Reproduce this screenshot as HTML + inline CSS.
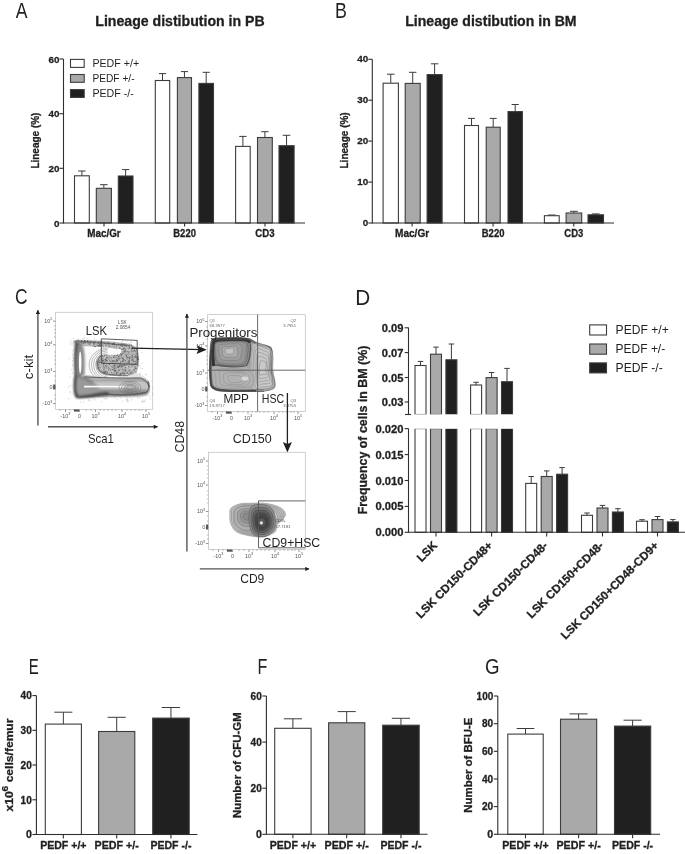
<!DOCTYPE html>
<html><head><meta charset="utf-8"><style>
html,body{margin:0;padding:0;background:#fff;width:685px;height:854px;overflow:hidden}
svg{display:block;filter:grayscale(1) blur(0.3px)}
text{font-family:"Liberation Sans",sans-serif}
text[font-weight="bold"]{stroke:#231f20;stroke-width:0.3px}
</style></head><body>
<svg width="685" height="854" viewBox="0 0 685 854">
<text transform="translate(15.77,17.9) scale(0.82,1)" font-size="21.5" fill="#231f20">A</text>
<text x="95.3" y="25.7" font-size="14" font-weight="bold" text-anchor="start" textLength="169.3" lengthAdjust="spacingAndGlyphs" fill="#231f20">Lineage distibution in PB</text>
<line x1="63.5" y1="59" x2="63.5" y2="223.5" stroke="#2e2e2e" stroke-width="1.1"/>
<line x1="59.5" y1="59" x2="63.5" y2="59" stroke="#2e2e2e" stroke-width="1.1"/>
<text x="59.4" y="62.5" font-size="9.8" font-weight="bold" text-anchor="end" fill="#231f20">60</text>
<line x1="59.5" y1="113.7" x2="63.5" y2="113.7" stroke="#2e2e2e" stroke-width="1.1"/>
<text x="59.4" y="117.2" font-size="9.8" font-weight="bold" text-anchor="end" fill="#231f20">40</text>
<line x1="59.5" y1="168.3" x2="63.5" y2="168.3" stroke="#2e2e2e" stroke-width="1.1"/>
<text x="59.4" y="171.8" font-size="9.8" font-weight="bold" text-anchor="end" fill="#231f20">20</text>
<line x1="59.5" y1="223" x2="63.5" y2="223" stroke="#2e2e2e" stroke-width="1.1"/>
<text x="59.4" y="226.5" font-size="9.8" font-weight="bold" text-anchor="end" fill="#231f20">0</text>
<line x1="81.9" y1="175.8" x2="81.9" y2="171" stroke="#3c3c3c" stroke-width="1"/>
<line x1="78.2" y1="171" x2="85.6" y2="171" stroke="#3c3c3c" stroke-width="1"/>
<rect x="74.5" y="175.8" width="14.8" height="47.2" fill="#ffffff" stroke="#3c3c3c" stroke-width="1.1"/>
<line x1="103.85" y1="188.3" x2="103.85" y2="184.7" stroke="#3c3c3c" stroke-width="1"/>
<line x1="100.07" y1="184.7" x2="107.62" y2="184.7" stroke="#3c3c3c" stroke-width="1"/>
<rect x="96.3" y="188.3" width="15.1" height="34.7" fill="#a7a9ac" stroke="#3c3c3c" stroke-width="1.1"/>
<line x1="125.65" y1="176" x2="125.65" y2="169.6" stroke="#3c3c3c" stroke-width="1"/>
<line x1="121.98" y1="169.6" x2="129.33" y2="169.6" stroke="#3c3c3c" stroke-width="1"/>
<rect x="118.3" y="176" width="14.7" height="47" fill="#231f20" stroke="#3c3c3c" stroke-width="1.1"/>
<line x1="162.5" y1="80.5" x2="162.5" y2="73.6" stroke="#3c3c3c" stroke-width="1"/>
<line x1="158.9" y1="73.6" x2="166.1" y2="73.6" stroke="#3c3c3c" stroke-width="1"/>
<rect x="155.3" y="80.5" width="14.4" height="142.5" fill="#ffffff" stroke="#3c3c3c" stroke-width="1.1"/>
<line x1="184.45" y1="77.6" x2="184.45" y2="71.6" stroke="#3c3c3c" stroke-width="1"/>
<line x1="180.92" y1="71.6" x2="187.97" y2="71.6" stroke="#3c3c3c" stroke-width="1"/>
<rect x="177.4" y="77.6" width="14.1" height="145.4" fill="#a7a9ac" stroke="#3c3c3c" stroke-width="1.1"/>
<line x1="206.2" y1="83.4" x2="206.2" y2="72.3" stroke="#3c3c3c" stroke-width="1"/>
<line x1="202.55" y1="72.3" x2="209.85" y2="72.3" stroke="#3c3c3c" stroke-width="1"/>
<rect x="198.9" y="83.4" width="14.6" height="139.6" fill="#231f20" stroke="#3c3c3c" stroke-width="1.1"/>
<line x1="242.9" y1="146.4" x2="242.9" y2="136.4" stroke="#3c3c3c" stroke-width="1"/>
<line x1="239.25" y1="136.4" x2="246.55" y2="136.4" stroke="#3c3c3c" stroke-width="1"/>
<rect x="235.6" y="146.4" width="14.6" height="76.6" fill="#ffffff" stroke="#3c3c3c" stroke-width="1.1"/>
<line x1="264.9" y1="137.5" x2="264.9" y2="131.7" stroke="#3c3c3c" stroke-width="1"/>
<line x1="261.2" y1="131.7" x2="268.6" y2="131.7" stroke="#3c3c3c" stroke-width="1"/>
<rect x="257.5" y="137.5" width="14.8" height="85.5" fill="#a7a9ac" stroke="#3c3c3c" stroke-width="1.1"/>
<line x1="286.55" y1="145.7" x2="286.55" y2="135.3" stroke="#3c3c3c" stroke-width="1"/>
<line x1="282.77" y1="135.3" x2="290.32" y2="135.3" stroke="#3c3c3c" stroke-width="1"/>
<rect x="279" y="145.7" width="15.1" height="77.3" fill="#231f20" stroke="#3c3c3c" stroke-width="1.1"/>
<line x1="63.5" y1="223" x2="305" y2="223" stroke="#2e2e2e" stroke-width="1.1"/>
<line x1="104" y1="223" x2="104" y2="226.5" stroke="#2e2e2e" stroke-width="1.1"/>
<text x="104" y="236.6" font-size="10.2" font-weight="bold" text-anchor="middle" textLength="33.4" lengthAdjust="spacingAndGlyphs" fill="#231f20">Mac/Gr</text>
<line x1="184.6" y1="223" x2="184.6" y2="226.5" stroke="#2e2e2e" stroke-width="1.1"/>
<text x="184.6" y="236.6" font-size="10.2" font-weight="bold" text-anchor="middle" textLength="22.6" lengthAdjust="spacingAndGlyphs" fill="#231f20">B220</text>
<line x1="265" y1="223" x2="265" y2="226.5" stroke="#2e2e2e" stroke-width="1.1"/>
<text x="265" y="236.6" font-size="10.2" font-weight="bold" text-anchor="middle" textLength="19.3" lengthAdjust="spacingAndGlyphs" fill="#231f20">CD3</text>
<text transform="translate(39.2,140.6) rotate(-90)" font-size="10" font-weight="bold" text-anchor="middle" textLength="56" lengthAdjust="spacingAndGlyphs" fill="#231f20">Lineage (%)</text>
<rect x="70.5" y="59.4" width="13.7" height="8" fill="#ffffff" stroke="#3c3c3c" stroke-width="1.1"/>
<rect x="70.5" y="74.5" width="13.7" height="7.8" fill="#a7a9ac" stroke="#3c3c3c" stroke-width="1.1"/>
<rect x="70.5" y="89.6" width="13.7" height="7.8" fill="#231f20" stroke="#3c3c3c" stroke-width="1.1"/>
<text x="92.4" y="66.6" font-size="10.5" text-anchor="start" textLength="46.8" lengthAdjust="spacingAndGlyphs" fill="#231f20">PEDF +/+</text>
<text x="92.4" y="81.7" font-size="10.5" text-anchor="start" textLength="42.2" lengthAdjust="spacingAndGlyphs" fill="#231f20">PEDF +/-</text>
<text x="92.4" y="96.8" font-size="10.5" text-anchor="start" textLength="41.5" lengthAdjust="spacingAndGlyphs" fill="#231f20">PEDF -/-</text>
<text transform="translate(335.04,18) scale(0.83,1)" font-size="21.5" fill="#231f20">B</text>
<text x="405.2" y="26.2" font-size="14" font-weight="bold" text-anchor="start" textLength="171.4" lengthAdjust="spacingAndGlyphs" fill="#231f20">Lineage distibution in BM</text>
<line x1="372.3" y1="59.3" x2="372.3" y2="223.5" stroke="#2e2e2e" stroke-width="1.1"/>
<line x1="368.3" y1="59.3" x2="372.3" y2="59.3" stroke="#2e2e2e" stroke-width="1.1"/>
<text x="368.2" y="62" font-size="9.8" font-weight="bold" text-anchor="end" fill="#231f20">40</text>
<line x1="368.3" y1="100.2" x2="372.3" y2="100.2" stroke="#2e2e2e" stroke-width="1.1"/>
<text x="368.2" y="102.9" font-size="9.8" font-weight="bold" text-anchor="end" fill="#231f20">30</text>
<line x1="368.3" y1="141.1" x2="372.3" y2="141.1" stroke="#2e2e2e" stroke-width="1.1"/>
<text x="368.2" y="143.8" font-size="9.8" font-weight="bold" text-anchor="end" fill="#231f20">20</text>
<line x1="368.3" y1="182.1" x2="372.3" y2="182.1" stroke="#2e2e2e" stroke-width="1.1"/>
<text x="368.2" y="184.8" font-size="9.8" font-weight="bold" text-anchor="end" fill="#231f20">10</text>
<line x1="368.3" y1="223" x2="372.3" y2="223" stroke="#2e2e2e" stroke-width="1.1"/>
<text x="368.2" y="225.7" font-size="9.8" font-weight="bold" text-anchor="end" fill="#231f20">0</text>
<line x1="390.75" y1="83.2" x2="390.75" y2="74.2" stroke="#3c3c3c" stroke-width="1"/>
<line x1="386.93" y1="74.2" x2="394.57" y2="74.2" stroke="#3c3c3c" stroke-width="1"/>
<rect x="383.1" y="83.2" width="15.3" height="139.8" fill="#ffffff" stroke="#3c3c3c" stroke-width="1.1"/>
<line x1="412.7" y1="83.4" x2="412.7" y2="72.3" stroke="#3c3c3c" stroke-width="1"/>
<line x1="408.95" y1="72.3" x2="416.45" y2="72.3" stroke="#3c3c3c" stroke-width="1"/>
<rect x="405.2" y="83.4" width="15" height="139.6" fill="#a7a9ac" stroke="#3c3c3c" stroke-width="1.1"/>
<line x1="434.6" y1="74.6" x2="434.6" y2="63.8" stroke="#3c3c3c" stroke-width="1"/>
<line x1="430.85" y1="63.8" x2="438.35" y2="63.8" stroke="#3c3c3c" stroke-width="1"/>
<rect x="427.1" y="74.6" width="15" height="148.4" fill="#231f20" stroke="#3c3c3c" stroke-width="1.1"/>
<line x1="471.5" y1="125.5" x2="471.5" y2="118.4" stroke="#3c3c3c" stroke-width="1"/>
<line x1="468" y1="118.4" x2="475" y2="118.4" stroke="#3c3c3c" stroke-width="1"/>
<rect x="464.5" y="125.5" width="14" height="97.5" fill="#ffffff" stroke="#3c3c3c" stroke-width="1.1"/>
<line x1="493.2" y1="127.2" x2="493.2" y2="118.4" stroke="#3c3c3c" stroke-width="1"/>
<line x1="489.7" y1="118.4" x2="496.7" y2="118.4" stroke="#3c3c3c" stroke-width="1"/>
<rect x="486.2" y="127.2" width="14" height="95.8" fill="#a7a9ac" stroke="#3c3c3c" stroke-width="1.1"/>
<line x1="515.2" y1="111.6" x2="515.2" y2="104.5" stroke="#3c3c3c" stroke-width="1"/>
<line x1="511.6" y1="104.5" x2="518.8" y2="104.5" stroke="#3c3c3c" stroke-width="1"/>
<rect x="508" y="111.6" width="14.4" height="111.4" fill="#231f20" stroke="#3c3c3c" stroke-width="1.1"/>
<line x1="551.8" y1="215.7" x2="551.8" y2="215" stroke="#3c3c3c" stroke-width="1"/>
<line x1="548.1" y1="215" x2="555.5" y2="215" stroke="#3c3c3c" stroke-width="1"/>
<rect x="544.4" y="215.7" width="14.8" height="7.3" fill="#ffffff" stroke="#3c3c3c" stroke-width="1.1"/>
<line x1="573.9" y1="213" x2="573.9" y2="211.3" stroke="#3c3c3c" stroke-width="1"/>
<line x1="570" y1="211.3" x2="577.8" y2="211.3" stroke="#3c3c3c" stroke-width="1"/>
<rect x="566.1" y="213" width="15.6" height="10" fill="#a7a9ac" stroke="#3c3c3c" stroke-width="1.1"/>
<line x1="595.75" y1="214.8" x2="595.75" y2="213.9" stroke="#3c3c3c" stroke-width="1"/>
<line x1="591.88" y1="213.9" x2="599.62" y2="213.9" stroke="#3c3c3c" stroke-width="1"/>
<rect x="588" y="214.8" width="15.5" height="8.2" fill="#231f20" stroke="#3c3c3c" stroke-width="1.1"/>
<line x1="372.3" y1="223" x2="614" y2="223" stroke="#2e2e2e" stroke-width="1.1"/>
<line x1="412.1" y1="223" x2="412.1" y2="226.5" stroke="#2e2e2e" stroke-width="1.1"/>
<text x="412.1" y="236.6" font-size="10.2" font-weight="bold" text-anchor="middle" textLength="34.1" lengthAdjust="spacingAndGlyphs" fill="#231f20">Mac/Gr</text>
<line x1="493.1" y1="223" x2="493.1" y2="226.5" stroke="#2e2e2e" stroke-width="1.1"/>
<text x="493.1" y="236.6" font-size="10.2" font-weight="bold" text-anchor="middle" textLength="22.6" lengthAdjust="spacingAndGlyphs" fill="#231f20">B220</text>
<line x1="573.8" y1="223" x2="573.8" y2="226.5" stroke="#2e2e2e" stroke-width="1.1"/>
<text x="573.8" y="236.6" font-size="10.2" font-weight="bold" text-anchor="middle" textLength="19" lengthAdjust="spacingAndGlyphs" fill="#231f20">CD3</text>
<text transform="translate(347.6,140.4) rotate(-90)" font-size="10" font-weight="bold" text-anchor="middle" textLength="56.2" lengthAdjust="spacingAndGlyphs" fill="#231f20">Lineage (%)</text>
<text transform="translate(355.3,304.7) scale(0.966,1)" font-size="21.5" fill="#231f20">D</text>
<line x1="408.5" y1="327.6" x2="408.5" y2="414.5" stroke="#2e2e2e" stroke-width="1.1"/>
<line x1="405" y1="414.5" x2="411" y2="414.5" stroke="#2e2e2e" stroke-width="1.1"/>
<line x1="404.7" y1="327.8" x2="408.5" y2="327.8" stroke="#2e2e2e" stroke-width="1.1"/>
<text x="403.5" y="331.8" font-size="11.2" font-weight="bold" text-anchor="end" textLength="21.7" lengthAdjust="spacingAndGlyphs" fill="#231f20">0.09</text>
<line x1="404.7" y1="352.6" x2="408.5" y2="352.6" stroke="#2e2e2e" stroke-width="1.1"/>
<text x="403.5" y="356.6" font-size="11.2" font-weight="bold" text-anchor="end" textLength="21.7" lengthAdjust="spacingAndGlyphs" fill="#231f20">0.07</text>
<line x1="404.7" y1="377.5" x2="408.5" y2="377.5" stroke="#2e2e2e" stroke-width="1.1"/>
<text x="403.5" y="381.5" font-size="11.2" font-weight="bold" text-anchor="end" textLength="21.7" lengthAdjust="spacingAndGlyphs" fill="#231f20">0.05</text>
<line x1="404.7" y1="402" x2="408.5" y2="402" stroke="#2e2e2e" stroke-width="1.1"/>
<text x="403.5" y="406" font-size="11.2" font-weight="bold" text-anchor="end" textLength="21.7" lengthAdjust="spacingAndGlyphs" fill="#231f20">0.03</text>
<line x1="408.5" y1="428.6" x2="408.5" y2="532.8" stroke="#2e2e2e" stroke-width="1.1"/>
<line x1="404.7" y1="428.6" x2="408.5" y2="428.6" stroke="#2e2e2e" stroke-width="1.1"/>
<text x="403.5" y="432.6" font-size="11.2" font-weight="bold" text-anchor="end" textLength="28" lengthAdjust="spacingAndGlyphs" fill="#231f20">0.020</text>
<line x1="404.7" y1="454.6" x2="408.5" y2="454.6" stroke="#2e2e2e" stroke-width="1.1"/>
<text x="403.5" y="458.6" font-size="11.2" font-weight="bold" text-anchor="end" textLength="28" lengthAdjust="spacingAndGlyphs" fill="#231f20">0.015</text>
<line x1="404.7" y1="480.5" x2="408.5" y2="480.5" stroke="#2e2e2e" stroke-width="1.1"/>
<text x="403.5" y="484.5" font-size="11.2" font-weight="bold" text-anchor="end" textLength="28" lengthAdjust="spacingAndGlyphs" fill="#231f20">0.010</text>
<line x1="404.7" y1="506.4" x2="408.5" y2="506.4" stroke="#2e2e2e" stroke-width="1.1"/>
<text x="403.5" y="510.4" font-size="11.2" font-weight="bold" text-anchor="end" textLength="28" lengthAdjust="spacingAndGlyphs" fill="#231f20">0.005</text>
<line x1="404.7" y1="532.3" x2="408.5" y2="532.3" stroke="#2e2e2e" stroke-width="1.1"/>
<text x="403.5" y="536.3" font-size="11.2" font-weight="bold" text-anchor="end" textLength="28" lengthAdjust="spacingAndGlyphs" fill="#231f20">0.000</text>
<line x1="420.5" y1="365.5" x2="420.5" y2="361.4" stroke="#3c3c3c" stroke-width="1"/>
<line x1="417.75" y1="361.4" x2="423.25" y2="361.4" stroke="#3c3c3c" stroke-width="1"/>
<rect x="415" y="365.5" width="11" height="49" fill="#ffffff" stroke="#3c3c3c" stroke-width="1.1"/>
<rect x="415" y="428.6" width="11" height="103.7" fill="#ffffff" stroke="#3c3c3c" stroke-width="1.1"/>
<rect x="414" y="414.3" width="13" height="14.5" fill="#fff"/>
<line x1="436" y1="354.2" x2="436" y2="347.1" stroke="#3c3c3c" stroke-width="1"/>
<line x1="433.25" y1="347.1" x2="438.75" y2="347.1" stroke="#3c3c3c" stroke-width="1"/>
<rect x="430.5" y="354.2" width="11" height="60.3" fill="#a7a9ac" stroke="#3c3c3c" stroke-width="1.1"/>
<rect x="430.5" y="428.6" width="11" height="103.7" fill="#a7a9ac" stroke="#3c3c3c" stroke-width="1.1"/>
<rect x="429.5" y="414.3" width="13" height="14.5" fill="#fff"/>
<line x1="451.4" y1="359.8" x2="451.4" y2="344" stroke="#3c3c3c" stroke-width="1"/>
<line x1="448.65" y1="344" x2="454.15" y2="344" stroke="#3c3c3c" stroke-width="1"/>
<rect x="445.9" y="359.8" width="11" height="54.7" fill="#231f20" stroke="#3c3c3c" stroke-width="1.1"/>
<rect x="445.9" y="428.6" width="11" height="103.7" fill="#231f20" stroke="#3c3c3c" stroke-width="1.1"/>
<rect x="444.9" y="414.3" width="13" height="14.5" fill="#fff"/>
<line x1="476.1" y1="385" x2="476.1" y2="382.3" stroke="#3c3c3c" stroke-width="1"/>
<line x1="473.35" y1="382.3" x2="478.85" y2="382.3" stroke="#3c3c3c" stroke-width="1"/>
<rect x="470.6" y="385" width="11" height="29.5" fill="#ffffff" stroke="#3c3c3c" stroke-width="1.1"/>
<rect x="470.6" y="428.6" width="11" height="103.7" fill="#ffffff" stroke="#3c3c3c" stroke-width="1.1"/>
<rect x="469.6" y="414.3" width="13" height="14.5" fill="#fff"/>
<line x1="491.6" y1="377.6" x2="491.6" y2="372.5" stroke="#3c3c3c" stroke-width="1"/>
<line x1="488.85" y1="372.5" x2="494.35" y2="372.5" stroke="#3c3c3c" stroke-width="1"/>
<rect x="486.1" y="377.6" width="11" height="36.9" fill="#a7a9ac" stroke="#3c3c3c" stroke-width="1.1"/>
<rect x="486.1" y="428.6" width="11" height="103.7" fill="#a7a9ac" stroke="#3c3c3c" stroke-width="1.1"/>
<rect x="485.1" y="414.3" width="13" height="14.5" fill="#fff"/>
<line x1="507" y1="381.7" x2="507" y2="368.4" stroke="#3c3c3c" stroke-width="1"/>
<line x1="504.25" y1="368.4" x2="509.75" y2="368.4" stroke="#3c3c3c" stroke-width="1"/>
<rect x="501.5" y="381.7" width="11" height="32.8" fill="#231f20" stroke="#3c3c3c" stroke-width="1.1"/>
<rect x="501.5" y="428.6" width="11" height="103.7" fill="#231f20" stroke="#3c3c3c" stroke-width="1.1"/>
<rect x="500.5" y="414.3" width="13" height="14.5" fill="#fff"/>
<line x1="531.2" y1="483.4" x2="531.2" y2="476.5" stroke="#3c3c3c" stroke-width="1"/>
<line x1="528.45" y1="476.5" x2="533.95" y2="476.5" stroke="#3c3c3c" stroke-width="1"/>
<rect x="525.7" y="483.4" width="11" height="48.9" fill="#ffffff" stroke="#3c3c3c" stroke-width="1.1"/>
<line x1="546.7" y1="476.5" x2="546.7" y2="470.9" stroke="#3c3c3c" stroke-width="1"/>
<line x1="543.95" y1="470.9" x2="549.45" y2="470.9" stroke="#3c3c3c" stroke-width="1"/>
<rect x="541.2" y="476.5" width="11" height="55.8" fill="#a7a9ac" stroke="#3c3c3c" stroke-width="1.1"/>
<line x1="562.1" y1="474.2" x2="562.1" y2="467.6" stroke="#3c3c3c" stroke-width="1"/>
<line x1="559.35" y1="467.6" x2="564.85" y2="467.6" stroke="#3c3c3c" stroke-width="1"/>
<rect x="556.6" y="474.2" width="11" height="58.1" fill="#231f20" stroke="#3c3c3c" stroke-width="1.1"/>
<line x1="587" y1="515.3" x2="587" y2="513" stroke="#3c3c3c" stroke-width="1"/>
<line x1="584.25" y1="513" x2="589.75" y2="513" stroke="#3c3c3c" stroke-width="1"/>
<rect x="581.5" y="515.3" width="11" height="17" fill="#ffffff" stroke="#3c3c3c" stroke-width="1.1"/>
<line x1="602.5" y1="508" x2="602.5" y2="505.4" stroke="#3c3c3c" stroke-width="1"/>
<line x1="599.75" y1="505.4" x2="605.25" y2="505.4" stroke="#3c3c3c" stroke-width="1"/>
<rect x="597" y="508" width="11" height="24.3" fill="#a7a9ac" stroke="#3c3c3c" stroke-width="1.1"/>
<line x1="617.9" y1="512" x2="617.9" y2="508.7" stroke="#3c3c3c" stroke-width="1"/>
<line x1="615.15" y1="508.7" x2="620.65" y2="508.7" stroke="#3c3c3c" stroke-width="1"/>
<rect x="612.4" y="512" width="11" height="20.3" fill="#231f20" stroke="#3c3c3c" stroke-width="1.1"/>
<line x1="642" y1="521.2" x2="642" y2="519.7" stroke="#3c3c3c" stroke-width="1"/>
<line x1="639.25" y1="519.7" x2="644.75" y2="519.7" stroke="#3c3c3c" stroke-width="1"/>
<rect x="636.5" y="521.2" width="11" height="11.1" fill="#ffffff" stroke="#3c3c3c" stroke-width="1.1"/>
<line x1="657.5" y1="519.6" x2="657.5" y2="516.5" stroke="#3c3c3c" stroke-width="1"/>
<line x1="654.75" y1="516.5" x2="660.25" y2="516.5" stroke="#3c3c3c" stroke-width="1"/>
<rect x="652" y="519.6" width="11" height="12.7" fill="#a7a9ac" stroke="#3c3c3c" stroke-width="1.1"/>
<line x1="672.9" y1="521.9" x2="672.9" y2="519.6" stroke="#3c3c3c" stroke-width="1"/>
<line x1="670.15" y1="519.6" x2="675.65" y2="519.6" stroke="#3c3c3c" stroke-width="1"/>
<rect x="667.4" y="521.9" width="11" height="10.4" fill="#231f20" stroke="#3c3c3c" stroke-width="1.1"/>
<line x1="408.5" y1="532.3" x2="685" y2="532.3" stroke="#2e2e2e" stroke-width="1.1"/>
<line x1="436" y1="532.3" x2="436" y2="536.5" stroke="#2e2e2e" stroke-width="1.1"/>
<text transform="translate(437.8,546.2) rotate(-45)" font-size="11.6" font-weight="bold" text-anchor="end" fill="#231f20">LSK</text>
<line x1="491.6" y1="532.3" x2="491.6" y2="536.5" stroke="#2e2e2e" stroke-width="1.1"/>
<text transform="translate(493.4,546.2) rotate(-45)" font-size="11.6" font-weight="bold" text-anchor="end" fill="#231f20">LSK CD150-CD48+</text>
<line x1="546.7" y1="532.3" x2="546.7" y2="536.5" stroke="#2e2e2e" stroke-width="1.1"/>
<text transform="translate(548.5,546.2) rotate(-45)" font-size="11.6" font-weight="bold" text-anchor="end" fill="#231f20">LSK CD150-CD48-</text>
<line x1="602.5" y1="532.3" x2="602.5" y2="536.5" stroke="#2e2e2e" stroke-width="1.1"/>
<text transform="translate(604.3,546.2) rotate(-45)" font-size="11.6" font-weight="bold" text-anchor="end" fill="#231f20">LSK CD150+CD48-</text>
<line x1="657.5" y1="532.3" x2="657.5" y2="536.5" stroke="#2e2e2e" stroke-width="1.1"/>
<text transform="translate(659.3,546.2) rotate(-45)" font-size="11.6" font-weight="bold" text-anchor="end" fill="#231f20">LSK CD150+CD48-CD9+</text>
<text transform="translate(367.2,430) rotate(-90)" font-size="12.4" font-weight="bold" text-anchor="middle" textLength="168.7" lengthAdjust="spacingAndGlyphs" fill="#231f20">Frequency of cells in BM (%)</text>
<rect x="589.7" y="324.9" width="16.8" height="10.1" fill="#ffffff" stroke="#3c3c3c" stroke-width="1.1"/>
<rect x="589.7" y="344" width="16.8" height="10.2" fill="#a7a9ac" stroke="#3c3c3c" stroke-width="1.1"/>
<rect x="589.7" y="362.9" width="16.8" height="10" fill="#231f20" stroke="#3c3c3c" stroke-width="1.1"/>
<text x="615.6" y="333.9" font-size="12.2" text-anchor="start" textLength="53.1" lengthAdjust="spacingAndGlyphs" fill="#231f20">PEDF +/+</text>
<text x="615.6" y="352.9" font-size="12.2" text-anchor="start" textLength="49.6" lengthAdjust="spacingAndGlyphs" fill="#231f20">PEDF +/-</text>
<text x="615.6" y="371.9" font-size="12.2" text-anchor="start" textLength="47.2" lengthAdjust="spacingAndGlyphs" fill="#231f20">PEDF -/-</text>
<text transform="translate(28.67,673.9) scale(0.7,1)" font-size="21.5" fill="#231f20">E</text>
<line x1="36.4" y1="695.6" x2="36.4" y2="835" stroke="#2e2e2e" stroke-width="1.1"/>
<line x1="32.4" y1="695.6" x2="36.4" y2="695.6" stroke="#2e2e2e" stroke-width="1.1"/>
<text x="31.8" y="699.3" font-size="10.2" font-weight="bold" text-anchor="end" textLength="11.2" lengthAdjust="spacingAndGlyphs" fill="#231f20">40</text>
<line x1="32.4" y1="730.3" x2="36.4" y2="730.3" stroke="#2e2e2e" stroke-width="1.1"/>
<text x="31.8" y="734" font-size="10.2" font-weight="bold" text-anchor="end" textLength="11.2" lengthAdjust="spacingAndGlyphs" fill="#231f20">30</text>
<line x1="32.4" y1="765" x2="36.4" y2="765" stroke="#2e2e2e" stroke-width="1.1"/>
<text x="31.8" y="768.7" font-size="10.2" font-weight="bold" text-anchor="end" textLength="11.2" lengthAdjust="spacingAndGlyphs" fill="#231f20">20</text>
<line x1="32.4" y1="799.8" x2="36.4" y2="799.8" stroke="#2e2e2e" stroke-width="1.1"/>
<text x="31.8" y="803.5" font-size="10.2" font-weight="bold" text-anchor="end" textLength="11.2" lengthAdjust="spacingAndGlyphs" fill="#231f20">10</text>
<line x1="32.4" y1="834.5" x2="36.4" y2="834.5" stroke="#2e2e2e" stroke-width="1.1"/>
<text x="31.8" y="838.2" font-size="10.2" font-weight="bold" text-anchor="end" textLength="5.9" lengthAdjust="spacingAndGlyphs" fill="#231f20">0</text>
<line x1="63.35" y1="724.1" x2="63.35" y2="712.2" stroke="#3c3c3c" stroke-width="1"/>
<line x1="54.33" y1="712.2" x2="72.38" y2="712.2" stroke="#3c3c3c" stroke-width="1"/>
<rect x="45.3" y="724.1" width="36.1" height="110.4" fill="#ffffff" stroke="#3c3c3c" stroke-width="1.1"/>
<line x1="116.7" y1="731.5" x2="116.7" y2="717.3" stroke="#3c3c3c" stroke-width="1"/>
<line x1="107.65" y1="717.3" x2="125.75" y2="717.3" stroke="#3c3c3c" stroke-width="1"/>
<rect x="98.6" y="731.5" width="36.2" height="103" fill="#a7a9ac" stroke="#3c3c3c" stroke-width="1.1"/>
<line x1="170.95" y1="718.1" x2="170.95" y2="707.5" stroke="#3c3c3c" stroke-width="1"/>
<line x1="161.82" y1="707.5" x2="180.07" y2="707.5" stroke="#3c3c3c" stroke-width="1"/>
<rect x="152.7" y="718.1" width="36.5" height="116.4" fill="#231f20" stroke="#3c3c3c" stroke-width="1.1"/>
<line x1="36.4" y1="834.5" x2="197.5" y2="834.5" stroke="#2e2e2e" stroke-width="1.1"/>
<line x1="63.35" y1="834.5" x2="63.35" y2="838.5" stroke="#2e2e2e" stroke-width="1.1"/>
<text x="63.35" y="849.3" font-size="10" font-weight="bold" text-anchor="middle" textLength="46.4" lengthAdjust="spacingAndGlyphs" fill="#231f20">PEDF +/+</text>
<line x1="116.7" y1="834.5" x2="116.7" y2="838.5" stroke="#2e2e2e" stroke-width="1.1"/>
<text x="116.7" y="849.3" font-size="10" font-weight="bold" text-anchor="middle" textLength="44.4" lengthAdjust="spacingAndGlyphs" fill="#231f20">PEDF +/-</text>
<line x1="170.95" y1="834.5" x2="170.95" y2="838.5" stroke="#2e2e2e" stroke-width="1.1"/>
<text x="170.95" y="849.3" font-size="10" font-weight="bold" text-anchor="middle" textLength="41.1" lengthAdjust="spacingAndGlyphs" fill="#231f20">PEDF -/-</text>
<text transform="translate(12.8,765.05) rotate(-90)" font-size="11.4" font-weight="bold" text-anchor="middle" textLength="93" lengthAdjust="spacingAndGlyphs" fill="#231f20">x10<tspan font-size="9.6" dy="-4.8">6</tspan><tspan dy="4.8"> cells/femur</tspan></text>
<text transform="translate(257.38,673.7) scale(0.75,1)" font-size="21.5" fill="#231f20">F</text>
<line x1="266.4" y1="696" x2="266.4" y2="834.8" stroke="#2e2e2e" stroke-width="1.1"/>
<line x1="262.4" y1="696" x2="266.4" y2="696" stroke="#2e2e2e" stroke-width="1.1"/>
<text x="261.8" y="699.7" font-size="10.2" font-weight="bold" text-anchor="end" textLength="11.2" lengthAdjust="spacingAndGlyphs" fill="#231f20">60</text>
<line x1="262.4" y1="742.1" x2="266.4" y2="742.1" stroke="#2e2e2e" stroke-width="1.1"/>
<text x="261.8" y="745.8" font-size="10.2" font-weight="bold" text-anchor="end" textLength="11.2" lengthAdjust="spacingAndGlyphs" fill="#231f20">40</text>
<line x1="262.4" y1="788.2" x2="266.4" y2="788.2" stroke="#2e2e2e" stroke-width="1.1"/>
<text x="261.8" y="791.9" font-size="10.2" font-weight="bold" text-anchor="end" textLength="11.2" lengthAdjust="spacingAndGlyphs" fill="#231f20">20</text>
<line x1="262.4" y1="834.3" x2="266.4" y2="834.3" stroke="#2e2e2e" stroke-width="1.1"/>
<text x="261.8" y="838" font-size="10.2" font-weight="bold" text-anchor="end" textLength="5.9" lengthAdjust="spacingAndGlyphs" fill="#231f20">0</text>
<line x1="292.9" y1="728.3" x2="292.9" y2="718.8" stroke="#3c3c3c" stroke-width="1"/>
<line x1="283.8" y1="718.8" x2="302" y2="718.8" stroke="#3c3c3c" stroke-width="1"/>
<rect x="274.7" y="728.3" width="36.4" height="106" fill="#ffffff" stroke="#3c3c3c" stroke-width="1.1"/>
<line x1="346.7" y1="722.8" x2="346.7" y2="711.6" stroke="#3c3c3c" stroke-width="1"/>
<line x1="337.65" y1="711.6" x2="355.75" y2="711.6" stroke="#3c3c3c" stroke-width="1"/>
<rect x="328.6" y="722.8" width="36.2" height="111.5" fill="#a7a9ac" stroke="#3c3c3c" stroke-width="1.1"/>
<line x1="400.95" y1="725.2" x2="400.95" y2="718.3" stroke="#3c3c3c" stroke-width="1"/>
<line x1="391.82" y1="718.3" x2="410.07" y2="718.3" stroke="#3c3c3c" stroke-width="1"/>
<rect x="382.7" y="725.2" width="36.5" height="109.1" fill="#231f20" stroke="#3c3c3c" stroke-width="1.1"/>
<line x1="266.4" y1="834.3" x2="427.5" y2="834.3" stroke="#2e2e2e" stroke-width="1.1"/>
<line x1="292.9" y1="834.3" x2="292.9" y2="838.3" stroke="#2e2e2e" stroke-width="1.1"/>
<text x="292.9" y="849.3" font-size="10" font-weight="bold" text-anchor="middle" textLength="46.4" lengthAdjust="spacingAndGlyphs" fill="#231f20">PEDF +/+</text>
<line x1="346.7" y1="834.3" x2="346.7" y2="838.3" stroke="#2e2e2e" stroke-width="1.1"/>
<text x="346.7" y="849.3" font-size="10" font-weight="bold" text-anchor="middle" textLength="44.4" lengthAdjust="spacingAndGlyphs" fill="#231f20">PEDF +/-</text>
<line x1="400.95" y1="834.3" x2="400.95" y2="838.3" stroke="#2e2e2e" stroke-width="1.1"/>
<text x="400.95" y="849.3" font-size="10" font-weight="bold" text-anchor="middle" textLength="41.1" lengthAdjust="spacingAndGlyphs" fill="#231f20">PEDF -/-</text>
<text transform="translate(240.8,765.15) rotate(-90)" font-size="11.4" font-weight="bold" text-anchor="middle" textLength="105.6" lengthAdjust="spacingAndGlyphs" fill="#231f20">Number of CFU-GM</text>
<text transform="translate(484.96,673.7) scale(0.87,1)" font-size="21.5" fill="#231f20">G</text>
<line x1="497.8" y1="696" x2="497.8" y2="834.8" stroke="#2e2e2e" stroke-width="1.1"/>
<line x1="493.8" y1="696" x2="497.8" y2="696" stroke="#2e2e2e" stroke-width="1.1"/>
<text x="493.2" y="699.7" font-size="10.2" font-weight="bold" text-anchor="end" textLength="16.6" lengthAdjust="spacingAndGlyphs" fill="#231f20">100</text>
<line x1="493.8" y1="723.7" x2="497.8" y2="723.7" stroke="#2e2e2e" stroke-width="1.1"/>
<text x="493.2" y="727.4" font-size="10.2" font-weight="bold" text-anchor="end" textLength="11.2" lengthAdjust="spacingAndGlyphs" fill="#231f20">80</text>
<line x1="493.8" y1="751.3" x2="497.8" y2="751.3" stroke="#2e2e2e" stroke-width="1.1"/>
<text x="493.2" y="755" font-size="10.2" font-weight="bold" text-anchor="end" textLength="11.2" lengthAdjust="spacingAndGlyphs" fill="#231f20">60</text>
<line x1="493.8" y1="779" x2="497.8" y2="779" stroke="#2e2e2e" stroke-width="1.1"/>
<text x="493.2" y="782.7" font-size="10.2" font-weight="bold" text-anchor="end" textLength="11.2" lengthAdjust="spacingAndGlyphs" fill="#231f20">40</text>
<line x1="493.8" y1="806.6" x2="497.8" y2="806.6" stroke="#2e2e2e" stroke-width="1.1"/>
<text x="493.2" y="810.3" font-size="10.2" font-weight="bold" text-anchor="end" textLength="11.2" lengthAdjust="spacingAndGlyphs" fill="#231f20">20</text>
<line x1="493.8" y1="834.3" x2="497.8" y2="834.3" stroke="#2e2e2e" stroke-width="1.1"/>
<text x="493.2" y="838" font-size="10.2" font-weight="bold" text-anchor="end" textLength="5.9" lengthAdjust="spacingAndGlyphs" fill="#231f20">0</text>
<line x1="525.5" y1="734.1" x2="525.5" y2="728.5" stroke="#3c3c3c" stroke-width="1"/>
<line x1="516.65" y1="728.5" x2="534.35" y2="728.5" stroke="#3c3c3c" stroke-width="1"/>
<rect x="507.8" y="734.1" width="35.4" height="100.2" fill="#ffffff" stroke="#3c3c3c" stroke-width="1.1"/>
<line x1="578.6" y1="719.2" x2="578.6" y2="713.9" stroke="#3c3c3c" stroke-width="1"/>
<line x1="569.55" y1="713.9" x2="587.65" y2="713.9" stroke="#3c3c3c" stroke-width="1"/>
<rect x="560.5" y="719.2" width="36.2" height="115.1" fill="#a7a9ac" stroke="#3c3c3c" stroke-width="1.1"/>
<line x1="632.6" y1="726.1" x2="632.6" y2="720.2" stroke="#3c3c3c" stroke-width="1"/>
<line x1="623.55" y1="720.2" x2="641.65" y2="720.2" stroke="#3c3c3c" stroke-width="1"/>
<rect x="614.5" y="726.1" width="36.2" height="108.2" fill="#231f20" stroke="#3c3c3c" stroke-width="1.1"/>
<line x1="497.8" y1="834.3" x2="660" y2="834.3" stroke="#2e2e2e" stroke-width="1.1"/>
<line x1="525.5" y1="834.3" x2="525.5" y2="838.3" stroke="#2e2e2e" stroke-width="1.1"/>
<text x="525.5" y="849.3" font-size="10" font-weight="bold" text-anchor="middle" textLength="46.4" lengthAdjust="spacingAndGlyphs" fill="#231f20">PEDF +/+</text>
<line x1="578.6" y1="834.3" x2="578.6" y2="838.3" stroke="#2e2e2e" stroke-width="1.1"/>
<text x="578.6" y="849.3" font-size="10" font-weight="bold" text-anchor="middle" textLength="44.4" lengthAdjust="spacingAndGlyphs" fill="#231f20">PEDF +/-</text>
<line x1="632.6" y1="834.3" x2="632.6" y2="838.3" stroke="#2e2e2e" stroke-width="1.1"/>
<text x="632.6" y="849.3" font-size="10" font-weight="bold" text-anchor="middle" textLength="41.1" lengthAdjust="spacingAndGlyphs" fill="#231f20">PEDF -/-</text>
<text transform="translate(472,765.15) rotate(-90)" font-size="11.4" font-weight="bold" text-anchor="middle" textLength="95" lengthAdjust="spacingAndGlyphs" fill="#231f20">Number of BFU-E</text>
<text transform="translate(15.01,303.8) scale(0.81,1)" font-size="21.5" fill="#231f20">C</text>
<defs>
<filter id="b1" filterUnits="userSpaceOnUse" x="0" y="0" width="685" height="854"><feGaussianBlur stdDeviation="1"/></filter>
<filter id="b2" filterUnits="userSpaceOnUse" x="0" y="0" width="685" height="854"><feGaussianBlur stdDeviation="1.8"/></filter>
<filter id="b05" filterUnits="userSpaceOnUse" x="0" y="0" width="685" height="854"><feGaussianBlur stdDeviation="0.5"/></filter>
<filter id="b08" filterUnits="userSpaceOnUse" x="0" y="0" width="685" height="854"><feGaussianBlur stdDeviation="0.8"/></filter>
<marker id="ah" viewBox="0 0 10 10" refX="9" refY="5" markerWidth="3.4" markerHeight="3" orient="auto"><path d="M0,0 L10,5 L0,10 Z" fill="#231f20"/></marker>
</defs>
<rect x="55.6" y="312.3" width="97.1" height="97.1" fill="none" stroke="#c4c4c4" stroke-width="0.8"/>
<line x1="53" y1="321.2" x2="55.6" y2="321.2" stroke="#8a8a8a" stroke-width="0.9"/>
<text x="52.4" y="322.8" font-size="5.4" text-anchor="end" fill="#555">10<tspan font-size="3.8" dy="-2.4">5</tspan></text>
<line x1="53" y1="344.8" x2="55.6" y2="344.8" stroke="#8a8a8a" stroke-width="0.9"/>
<text x="52.4" y="346.4" font-size="5.4" text-anchor="end" fill="#555">10<tspan font-size="3.8" dy="-2.4">4</tspan></text>
<line x1="53" y1="371.5" x2="55.6" y2="371.5" stroke="#8a8a8a" stroke-width="0.9"/>
<text x="52.4" y="373.1" font-size="5.4" text-anchor="end" fill="#555">10<tspan font-size="3.8" dy="-2.4">3</tspan></text>
<line x1="53" y1="387.5" x2="55.6" y2="387.5" stroke="#8a8a8a" stroke-width="0.9"/>
<text x="52.4" y="389.1" font-size="5.4" text-anchor="end" fill="#555">0</text>
<line x1="53" y1="403.5" x2="55.6" y2="403.5" stroke="#8a8a8a" stroke-width="0.9"/>
<text x="52.4" y="405.1" font-size="5.4" text-anchor="end" fill="#555">-10<tspan font-size="3.8" dy="-2.4">3</tspan></text>
<line x1="65.5" y1="409.4" x2="65.5" y2="412" stroke="#8a8a8a" stroke-width="0.9"/>
<text x="65.5" y="417.6" font-size="5.4" text-anchor="middle" fill="#555">-10<tspan font-size="3.8" dy="-2.4">3</tspan></text>
<line x1="79.5" y1="409.4" x2="79.5" y2="412" stroke="#8a8a8a" stroke-width="0.9"/>
<text x="79.5" y="417.6" font-size="5.4" text-anchor="middle" fill="#555">0</text>
<line x1="95.5" y1="409.4" x2="95.5" y2="412" stroke="#8a8a8a" stroke-width="0.9"/>
<text x="95.5" y="417.6" font-size="5.4" text-anchor="middle" fill="#555">10<tspan font-size="3.8" dy="-2.4">3</tspan></text>
<line x1="122" y1="409.4" x2="122" y2="412" stroke="#8a8a8a" stroke-width="0.9"/>
<text x="122" y="417.6" font-size="5.4" text-anchor="middle" fill="#555">10<tspan font-size="3.8" dy="-2.4">4</tspan></text>
<line x1="146" y1="409.4" x2="146" y2="412" stroke="#8a8a8a" stroke-width="0.9"/>
<text x="146" y="417.6" font-size="5.4" text-anchor="middle" fill="#555">10<tspan font-size="3.8" dy="-2.4">5</tspan></text>
<line x1="54.1" y1="326" x2="55.6" y2="326" stroke="#8a8a8a" stroke-width="0.6"/>
<line x1="54.1" y1="329.5" x2="55.6" y2="329.5" stroke="#8a8a8a" stroke-width="0.6"/>
<line x1="54.1" y1="333" x2="55.6" y2="333" stroke="#8a8a8a" stroke-width="0.6"/>
<line x1="54.1" y1="337" x2="55.6" y2="337" stroke="#8a8a8a" stroke-width="0.6"/>
<line x1="54.1" y1="352" x2="55.6" y2="352" stroke="#8a8a8a" stroke-width="0.6"/>
<line x1="54.1" y1="356" x2="55.6" y2="356" stroke="#8a8a8a" stroke-width="0.6"/>
<line x1="54.1" y1="360" x2="55.6" y2="360" stroke="#8a8a8a" stroke-width="0.6"/>
<line x1="54.1" y1="364" x2="55.6" y2="364" stroke="#8a8a8a" stroke-width="0.6"/>
<line x1="54.1" y1="376" x2="55.6" y2="376" stroke="#8a8a8a" stroke-width="0.6"/>
<line x1="54.1" y1="381" x2="55.6" y2="381" stroke="#8a8a8a" stroke-width="0.6"/>
<line x1="54.1" y1="395" x2="55.6" y2="395" stroke="#8a8a8a" stroke-width="0.6"/>
<line x1="54.1" y1="399" x2="55.6" y2="399" stroke="#8a8a8a" stroke-width="0.6"/>
<line x1="60" y1="409.4" x2="60" y2="410.9" stroke="#8a8a8a" stroke-width="0.6"/>
<line x1="70" y1="409.4" x2="70" y2="410.9" stroke="#8a8a8a" stroke-width="0.6"/>
<line x1="74" y1="409.4" x2="74" y2="410.9" stroke="#8a8a8a" stroke-width="0.6"/>
<line x1="86" y1="409.4" x2="86" y2="410.9" stroke="#8a8a8a" stroke-width="0.6"/>
<line x1="91" y1="409.4" x2="91" y2="410.9" stroke="#8a8a8a" stroke-width="0.6"/>
<line x1="100" y1="409.4" x2="100" y2="410.9" stroke="#8a8a8a" stroke-width="0.6"/>
<line x1="104" y1="409.4" x2="104" y2="410.9" stroke="#8a8a8a" stroke-width="0.6"/>
<line x1="108" y1="409.4" x2="108" y2="410.9" stroke="#8a8a8a" stroke-width="0.6"/>
<line x1="112" y1="409.4" x2="112" y2="410.9" stroke="#8a8a8a" stroke-width="0.6"/>
<line x1="116" y1="409.4" x2="116" y2="410.9" stroke="#8a8a8a" stroke-width="0.6"/>
<line x1="127" y1="409.4" x2="127" y2="410.9" stroke="#8a8a8a" stroke-width="0.6"/>
<line x1="131" y1="409.4" x2="131" y2="410.9" stroke="#8a8a8a" stroke-width="0.6"/>
<line x1="135" y1="409.4" x2="135" y2="410.9" stroke="#8a8a8a" stroke-width="0.6"/>
<line x1="139" y1="409.4" x2="139" y2="410.9" stroke="#8a8a8a" stroke-width="0.6"/>
<line x1="142" y1="409.4" x2="142" y2="410.9" stroke="#8a8a8a" stroke-width="0.6"/>
<rect x="74" y="409.4" width="5" height="2.2" fill="#555"/>
<rect x="53.2" y="384.5" width="2.2" height="5" fill="#555"/>
<path d="M89 372.6h0M100.3 376.6h0M122.3 341.3h0M69.6 391.9h0M90.8 352.3h0M140.4 368.2h0M123.5 346.9h0M123.1 393.9h0M113.5 385.6h0M126.2 341.2h0M133.7 375.7h0M94.4 339h0M130.3 394.6h0M129.9 397.3h0M102.5 389.5h0M106.7 398.3h0M80.2 351.2h0M122.4 356.7h0M112.1 362.3h0M98.7 375.3h0M118.7 396.2h0M127.2 397.8h0M142.2 401.9h0M126.2 347.7h0M142.5 400.2h0M146.3 374.3h0M129.9 350.8h0M140 374.6h0M93 341.2h0M141.9 401.8h0M76.1 389.4h0M103.8 346.9h0M93.8 387.4h0M130.3 358.7h0M144.3 401.2h0M95.1 342h0M85.5 363.7h0M121 347.2h0M72.1 393.8h0M95.5 399.8h0M108.1 371.1h0M123.9 376h0M116.6 377.6h0M105.6 384.2h0M88.9 356.7h0M104.2 375h0M70.2 377.3h0M122.9 340.9h0M122.5 367.5h0M126.9 360.1h0M129.3 385.3h0M70.4 341h0M126.6 400.1h0M90.1 366.9h0M119.5 358h0M99.8 357.5h0M100.2 376h0M94.3 361.7h0M117.5 385.2h0M95.2 351.6h0M137.6 352.6h0M84.6 365.5h0M128.5 343.7h0M96.2 358.9h0M140.2 365.7h0M142.1 348.1h0M97.5 379.6h0M87.9 344.9h0M114 349.5h0M137.9 391.9h0M84.3 355.2h0M137.9 379h0M137.8 359.6h0M79.7 356.1h0M136.8 354.8h0M98.3 364.3h0M104.6 363.8h0M68.9 398.8h0M144.2 401.6h0M105.9 399.2h0M132.6 391.8h0M125.5 371h0M93.4 359.3h0M88.1 341.5h0M119.1 355.8h0M146.2 382.4h0M148 395.7h0M145.9 374.8h0M69.6 385.8h0M83.3 356.6h0M125.5 371.4h0M104.1 398.5h0M121.1 359.4h0M90.2 393.4h0M109.5 388.2h0M98.8 349.9h0M114.5 390.5h0M83.2 388.9h0M147.8 389.8h0M122.6 393.5h0M72.8 354.8h0M91.6 371.5h0M104.9 368h0M73.2 345.3h0M79.2 341.5h0M152.3 393h0M75.9 369.9h0M95.7 357.6h0M98.7 379.4h0M118.9 360.6h0M84.9 358.5h0M79.1 373.4h0M130.1 361.9h0M75.4 348.7h0M100.6 376.6h0M135.8 361.9h0M137.4 377.8h0M105.6 361.4h0M111.2 383h0M104.7 382.5h0M108.1 353.1h0M114.6 382.5h0M74.7 364.8h0M105.1 394.6h0M145.7 388.8h0M91 367.4h0M79.1 390.3h0M125.5 395.1h0M136.7 380.7h0M131.6 373.9h0M77.4 375.5h0M76.4 343.5h0M70.5 392.1h0M78.9 392.3h0M126.4 391.8h0M134.5 370.5h0M130 344h0M132.9 398.2h0M73.8 358.2h0M117 391.2h0M89.3 348.8h0M90 377.3h0M133.3 362.8h0M100.1 363h0M98.6 364.4h0M75.7 369.8h0M132.8 347.5h0M127.9 386.5h0M126.5 370.9h0M110.1 379.1h0M76.7 386h0M106.6 384.1h0M84.5 354.5h0M85.6 375.4h0M95.6 352.2h0M127.9 399.4h0M93.9 383.2h0M104 392.9h0M118.8 354.5h0M87.2 338.5h0M109.7 362.1h0M83.3 360.6h0M96.2 387.7h0M80.9 401.9h0M109.7 376.2h0M108.8 391.7h0M139.2 373.5h0M109.9 384.2h0M142.2 363.2h0M131.6 399.9h0M108.7 352h0M88.7 384h0M126.6 399.8h0M141.9 352.9h0M84.8 353.9h0M84.6 383.2h0M142.3 395.9h0M90.4 393.7h0M95.5 364.7h0M131.2 342.6h0M76.5 391.6h0M93.6 360.4h0M118.4 381.2h0M69.1 358.9h0M106 368.8h0M86.6 375.3h0M115.3 344.8h0M92.1 380.6h0M78.2 395.1h0M134.9 386.6h0M93.9 381.3h0M124.8 389.8h0M91.3 386.4h0M151.2 381.1h0M114.6 344.4h0M111 360.1h0M130.3 381.4h0M117.2 348.9h0M124 378.3h0M83.9 395.3h0M124.9 345.1h0M97 384.2h0M119.9 373.3h0M124.2 367h0M95.4 348.6h0M74.4 383.9h0M133.4 372.6h0M132.1 360.5h0M91.4 362.1h0M111.9 353.2h0M134.6 360.2h0M97.1 363.4h0M115.1 387.5h0M98.8 392.5h0M78.1 354.7h0M77.1 344.4h0M135.5 384.6h0M84.4 349.4h0M104.3 385.7h0M138.7 386h0M119.4 346.6h0M102.8 349.7h0M113.9 374.2h0M85.9 353.4h0M137.6 395.4h0M116 375.2h0M123 401h0M127.6 356.6h0M142.5 368.7h0M120.2 384.6h0M68.7 387.5h0M125.4 369.2h0M113.5 367.2h0M85.1 371.7h0M71.7 369.8h0M124.1 366.1h0M117.2 399.8h0M136.6 377.8h0M72.9 360.6h0M88.6 342.1h0M114.8 397.9h0M96.3 394h0M128.2 345.8h0M142.3 376.4h0M148.2 383.9h0M132.1 359.5h0M137.9 398h0M133.6 368.8h0M77.9 339.8h0M75.2 350.1h0M82.3 369.6h0M128.6 372.2h0M104.8 379.5h0M94.7 367.4h0M133.6 363.3h0M84 395.9h0M130.4 361h0M100.4 371.7h0M119.8 351.7h0M135.9 346.4h0M108.1 349.8h0M86.5 348.2h0M103.2 348h0M70.9 344.2h0M83 369.1h0M73.6 338.5h0M107 363.7h0M103.2 363h0M87.3 343.2h0M109.3 347.8h0M122 359.7h0M79.2 340.4h0M131.1 355h0M136.3 367.5h0M90 354.4h0M138.6 378.2h0M98.1 343.1h0M127.2 400.5h0M71.1 342.9h0M83.1 339.4h0M73.1 379.9h0M137.6 397.1h0M94.7 376.8h0M93.7 392.7h0M78.4 362.5h0M97.2 381.5h0M132.1 385.1h0M140.4 373.2h0M104.2 352h0M135.5 368.5h0M91.7 348.1h0M130.5 376.7h0M129.6 362.3h0M110.4 347.1h0M108.7 386.7h0M126.8 343.4h0M88.9 392.3h0M123.7 394.5h0M145.6 385h0M97.2 361.2h0M74.7 363.2h0M117.4 344.2h0M75.5 379.5h0M89.2 340.2h0M81.6 379.2h0M88.3 400.4h0M87.4 373.8h0M104.6 388.2h0M120.5 388.7h0M114.5 349.3h0M83.8 342.2h0M139.5 344.4h0M85.6 395.5h0M75.9 367.5h0M87.7 391.3h0M121.4 379h0M134 394.1h0M98.3 376.5h0M106.8 344.3h0M140.3 375.9h0M138.6 350.5h0M114.9 367.4h0M131.1 342.1h0M98.3 368.7h0M74.7 373.2h0M131.7 364.7h0M124.3 376.7h0M86.9 360h0M105.6 342.5h0M87.2 347.8h0M148.6 384.6h0M143.7 401.6h0M121.1 398h0M114.6 364.4h0M150 396.2h0M135 363.7h0M93.6 398.2h0M84.4 343.3h0M130.6 356.3h0M113.2 378.9h0M72 385.8h0M92.2 365.3h0M98.2 385.6h0M132.7 355.8h0M77.4 356.6h0M103.9 342.1h0M81.7 387h0M128.7 401h0M152.7 394.4h0M100.5 347.6h0M95.3 367.3h0M113.7 372.5h0M99.4 392.9h0M93 367.3h0M144.8 389.9h0M94.1 352.9h0M79.8 371.8h0M114.6 347.9h0M72.8 350.4h0M134.7 367.5h0M152.7 388.5h0M84.4 337.9h0M105.7 359.2h0M72.9 372.8h0M76.6 357.4h0M89.8 389.5h0M104.5 354.1h0M72.3 365.1h0M122.5 381.2h0M147 390h0M89.8 345.9h0M133.7 388.7h0M112.3 391.4h0M116 355.3h0M83 338.1h0M123.8 395.8h0M125.7 397.8h0M138.5 376.5h0M104.1 371h0M83.2 349h0M127.3 402h0M115.5 363.7h0M98.8 366.8h0M137.6 366.6h0M95.6 371.2h0M103.9 392.7h0M139.7 398h0M117.9 373h0M110.4 355.3h0M129.5 396.7h0M77.3 380.8h0M100.4 370.7h0M145.5 399.9h0M123.8 349.8h0M101.5 391.2h0M95.7 354.7h0M150.2 398.8h0M95.8 362.7h0M92.7 345.6h0M90 401.2h0M75.3 352h0M85.7 342.2h0M113.8 385.7h0M140.6 378.3h0M92.8 400h0M74.5 354.5h0M110 354.5h0M115.5 340.1h0M88.8 399.7h0M80.9 396.3h0M83.8 402h0M126.5 379.4h0M80.7 340.6h0M133.8 348.5h0M84.8 390.9h0M101.4 344h0M102 401.7h0M92.6 345.6h0M81 345.3h0M98.8 396.9h0" stroke="#6a6a6a" stroke-width="0.6" stroke-linecap="round" fill="none" opacity="0.7"/>
<path d="M74,341 C78.25,339.58 92.33,341.17 100,341.5 C107.67,341.83 114.5,342.33 120,343 C125.5,343.67 130.08,344.33 133,345.5 C135.92,346.67 136.58,347.92 137.5,350 C138.42,352.08 138.42,355.17 138.5,358 C138.58,360.83 138.25,364.5 138,367 C137.75,369.5 136.17,371.5 137,373 C137.83,374.5 141,374.67 143,376 C145,377.33 147.75,379 149,381 C150.25,383 150.58,385.83 150.5,388 C150.42,390.17 150.25,392.58 148.5,394 C146.75,395.42 146.42,396 140,396.5 C133.58,397 119.17,396.83 110,397 C100.83,397.17 90.67,397.42 85,397.5 C79.33,397.58 77.83,398.08 76,397.5 C74.17,396.92 74.25,398.58 74,394 C73.75,389.42 74.42,377.33 74.5,370 C74.58,362.67 74.58,354.83 74.5,350 C74.42,345.17 69.75,342.42 74,341 Z" fill="#e2e2e2" filter="url(#b05)"/>
<path d="M83,345.5 C86,344.58 94.67,346.03 101,346.5 C107.33,346.97 117.53,347.47 121,348.3 C124.47,349.13 122.3,350.47 121.8,351.5 C121.3,352.53 120.97,353.98 118,354.5 C115.03,355.02 107.33,354.27 104,354.6 C100.67,354.93 99.42,355.1 98,356.5 C96.58,357.9 95.67,360.75 95.5,363 C95.33,365.25 95.75,368.08 97,370 C98.25,371.92 100,373.5 103,374.5 C106,375.5 110.17,375.58 115,376 C119.83,376.42 132.83,376.67 132,377 C131.17,377.33 116.67,377.92 110,378 C103.33,378.08 96,377.92 92,377.5 C88,377.08 87.42,377.58 86,375.5 C84.58,373.42 84,368.92 83.5,365 C83,361.08 83.08,355.25 83,352 C82.92,348.75 80,346.42 83,345.5 Z" fill="#fbfbfb" filter="url(#b05)"/>
<path d="M107.5,354.2 A9.6,10.6 0 0 0 107.5,375.4" fill="none" stroke="#8a8a8a" stroke-width="0.55"/>
<path d="M107.5,352.5 A11.8,12.3 0 0 0 107.5,377.1" fill="none" stroke="#8a8a8a" stroke-width="0.55"/>
<path d="M107.5,350.8 A14,14 0 0 0 107.5,378.8" fill="none" stroke="#8a8a8a" stroke-width="0.55"/>
<path d="M107.5,349.4 A16.2,15.4 0 0 0 107.5,380.2" fill="none" stroke="#8a8a8a" stroke-width="0.55"/>
<path d="M107.5,348.2 A18.4,16.6 0 0 0 107.5,381.4" fill="none" stroke="#8a8a8a" stroke-width="0.55"/>
<path d="M75,340.2 C79.17,339.67 92.5,340.4 100,340.8 C107.5,341.2 114.67,341.9 120,342.6 C125.33,343.3 129.17,343.93 132,345 C134.83,346.07 135.83,347 137,349 C138.17,351 138.75,354.17 139,357 C139.25,359.83 139,363.42 138.5,366 C138,368.58 137.75,370.88 136,372.5 C134.25,374.12 132,375.17 128,375.7 C124,376.23 116.5,376.12 112,375.7 C107.5,375.28 103.62,374.82 101,373.2 C98.38,371.58 97,368.37 96.3,366 C95.6,363.63 96.02,360.78 96.8,359 C97.58,357.22 98.8,355.98 101,355.3 C103.2,354.62 107.17,355 110,354.9 C112.83,354.8 116.12,355.18 118,354.7 C119.88,354.22 120.88,352.92 121.3,352 C121.72,351.08 121.72,349.83 120.5,349.2 C119.28,348.57 117.42,348.57 114,348.2 C110.58,347.83 104.83,347.37 100,347 C95.17,346.63 88.67,346.3 85,346 C81.33,345.7 79.67,345.53 78,345.2 C76.33,344.87 75.5,344.83 75,344 C74.5,343.17 70.83,340.73 75,340.2 Z" fill="#b4b4b4" filter="url(#b05)"/>
<path d="M114.9 366.5h0M125.9 373.7h0M122.4 372.9h0M135.4 363.2h0M109.8 360.6h0M124 345.9h0M126 345.1h0M114.5 344.7h0M109.5 364.3h0M119.2 374.5h0M132.2 350.8h0M98.1 346.1h0M84.3 342.5h0M127.4 357.3h0M123 370.2h0M98.4 360.7h0M75.6 341.9h0M108.6 367.7h0M126 370.7h0M114.1 372.8h0M95.3 346.5h0M119.1 375.6h0M85.3 341.9h0M138.1 359.1h0M113 369.5h0M104.2 355.2h0M128.7 344.8h0M121.8 373.9h0M115.3 368.2h0M137.5 356.3h0M106.2 366.1h0M100.8 345.4h0M136.4 362.5h0M125 371h0M98.1 368.1h0M124.6 364.9h0M117.5 367.2h0M98.3 365.2h0M124.3 364.7h0M116.6 360.8h0M104.6 369.2h0M116.4 368.5h0M97.3 363.1h0M122.2 369.6h0M130.7 364.6h0M108.2 359h0M135 357.1h0M119.3 365.7h0M121.7 346.3h0M124.9 360.8h0M117.6 355.1h0M114.9 367.7h0M115.8 365.8h0M103.2 363.3h0M78.5 344.9h0M95.3 346.6h0M87.4 341.5h0M114.2 361.2h0M98.9 341.5h0M114.3 343.6h0M112.2 374.2h0M127.4 355.1h0M127 363h0M98.6 345.2h0M113.1 360.2h0M114.4 345.2h0M115.3 371.8h0M137.2 353.7h0M137.8 357.8h0M138 357.7h0M125 369.6h0M125 348.9h0M92.1 345.7h0M113.9 357h0M116.3 361.6h0M122.6 344.4h0M123.7 350.9h0M122.7 361.2h0M104.2 372.7h0M131.8 359.6h0M102.4 360.6h0M120.3 362.6h0M105.8 372.6h0M129.5 347.2h0M119.5 355.6h0M105.6 359.7h0M125.7 363.8h0M128.9 348h0M116.3 374h0M120.6 345h0M101.5 345.9h0M79.6 342.2h0M111.8 366.6h0M131.2 345h0M113.4 357.6h0M135.1 353.5h0M107.4 372.5h0M110.5 362.2h0M108.1 344.9h0M122.2 346.6h0M120.7 363.5h0M80.8 344.6h0M131.1 357.3h0M135.9 364.4h0M89.3 344.3h0M137.3 363.8h0M127.5 345.2h0M99.7 345h0M128.2 363.2h0M126.5 355.6h0M129.5 358.6h0M112.9 360.6h0M122.4 354.2h0M81.2 341.4h0M88 341.6h0M131.9 357.3h0M105.1 371.8h0M114.6 355.4h0M104.8 343.7h0M84.9 345.8h0M131.3 345.6h0M119 364.1h0M105.2 373.8h0M121.7 346h0M87.9 341.1h0M89.8 343h0M121.9 365.7h0M118 373.6h0M116.3 355.5h0M101.3 341.8h0M81 342.7h0M132.5 357.6h0M90.6 342h0M100.4 342.3h0M94.6 342h0M100.8 359.1h0M134 361.4h0M129.8 347.8h0M106.1 360.5h0M99.1 362.4h0M121.4 372.6h0M127.9 348.2h0M127.4 351.3h0M83.3 343.1h0M90.7 343.2h0M102.4 360.7h0M90.7 342.4h0M98.9 343.7h0M123.1 359.9h0M132.3 363.4h0M123.6 360.6h0M103.3 369.2h0M116.9 374.1h0M121.6 365.1h0M99.5 344.8h0M93.3 342.5h0M123.9 360h0M76.8 342h0M130 373.9h0M112.4 369.6h0M121.5 343.6h0M108.9 346.3h0M120.4 356h0M135.1 368.4h0M133.6 356.6h0M102.8 355.9h0M124.1 373.4h0M109.1 374.6h0M113.1 343.9h0M127.1 355.1h0M105.8 371.5h0M123.1 348.8h0M129.4 362.1h0M100.7 345.3h0M128.2 357.6h0M132.6 347.3h0M126 351.7h0M118.7 370.8h0M114.9 368.6h0M107.8 361h0M95.3 341.2h0M105.5 365.2h0M127.2 373h0M119.3 364h0M109.3 368.6h0M98.2 361.3h0M118.5 358.7h0M93.2 343h0M112.1 367.2h0M134.5 349.9h0M123.2 364h0M119 370h0M122.3 361.9h0M132.4 348.7h0M137.4 359.5h0M100 346.5h0M116.8 372.1h0M133.3 362h0M99.7 344.1h0M119.1 359.8h0M120.8 353.5h0M131.8 347.8h0M114.8 372.1h0M124.1 348.2h0M128.1 371.4h0M121.6 355h0M102.2 359h0M132.9 350.9h0M77 344.3h0M111 361.6h0M113 363.1h0M119.2 366.1h0M128.4 374.2h0M116.3 373.1h0M128.8 357.1h0M85 343.5h0M122.1 369.2h0M126.4 365.5h0M115 374.5h0M81.6 343.9h0M118.6 366.6h0M99 364.5h0M106.7 374.4h0M123.6 365.8h0M93.9 344.3h0M122.2 372.8h0M106.9 364.9h0M125.5 360.6h0M129.3 358.6h0M138 359.4h0M124 353h0M108.1 342.1h0M103.3 357h0M136.1 364.6h0M107.5 342.1h0M100.1 367.8h0M102.8 361.3h0M132.8 363.1h0M101.4 371.2h0M127.8 372.7h0M123.4 371.9h0M117.7 344.6h0M132.4 371.6h0M87.6 340.9h0M128 374.3h0M113.3 345h0M98.9 367.7h0M137.4 365.1h0M80.8 344.1h0M112.2 374.5h0M121.8 344.9h0M105.8 365.3h0M101.8 358.1h0M114.1 368.3h0M97.1 341h0M116.9 373h0M98.7 359h0M120.6 373.5h0M94.3 346.1h0M103.7 366.3h0M134.2 350.8h0M110.3 369.7h0M106.6 360.3h0M78.8 343.3h0M96.9 345.3h0M136.9 349.5h0M122.4 349.5h0M128.1 362.4h0M99.9 362.5h0M131.1 355.8h0M132.4 346.5h0M83.8 342h0M122.3 360.1h0M75.6 341.7h0M127.7 357.8h0M112.7 344.4h0M121.2 361.9h0M114.2 348.1h0M80.9 342.6h0M104.5 363.2h0M132.1 365.8h0M129 344.5h0M123.3 349.4h0M123.5 358.5h0M132.7 356.7h0M88.1 343.3h0M97.6 343h0M102.2 362.3h0M116.6 346.4h0M119 356.1h0M111.7 372.6h0M106.6 359.2h0M132.6 359.9h0M117.4 355.1h0M125.2 369.9h0M93.8 344h0M131.9 349.6h0M115.3 362.9h0M124.3 352.1h0M129 360.9h0M99.6 362.8h0M121.3 349.5h0M81.1 342.5h0M120.9 354.8h0M94.3 346.6h0M135.4 368.3h0M132.4 358.2h0M89.5 341.2h0M104.8 343.8h0M124.2 344.3h0M109.4 343.2h0M138.2 359.5h0M110.3 374.7h0M107.9 372.8h0M99.4 362.7h0M133.8 351.8h0M126.9 359h0M83.9 342.1h0M135.1 356.7h0M103.4 372.8h0M111.7 358h0M123.5 361.7h0M119.5 366.1h0M114.7 370.6h0M115.9 357.5h0M130.9 372.8h0M131.1 344.9h0M116.9 367.1h0M135.4 351.3h0M129.6 363.7h0M101.9 369.9h0M121.8 358.1h0M120.5 362h0M125.9 345.9h0M125.6 367.6h0M109.3 357.2h0M116.3 348.3h0M117 360.8h0M122.6 358.1h0M122.1 353.4h0M113.2 367.1h0M103.5 364.6h0M128.8 345.4h0M78.6 340.7h0M124 344h0M104.3 355.8h0M126.4 357.1h0M125.9 367.4h0M114.9 369.8h0M114.3 365.6h0M129.5 362.1h0M99.9 346.1h0M136 372h0M119.1 347.9h0M100.8 356.2h0M101.2 341.1h0M104.2 367.5h0M119.4 370.7h0M118.7 367.3h0M130.7 372.8h0M125.8 355h0M117.2 363.6h0M131.5 365.5h0M103.4 347h0M118.6 367.5h0M128.8 353.2h0M98.2 345.3h0M81.7 340.4h0M110.2 374.2h0M128.4 351.8h0M84.6 340.4h0M123.4 357.2h0M126.4 356.2h0M133.8 361.8h0M109.4 346.3h0M102.3 355.8h0M127.7 348.4h0M113 343.5h0M121.7 354.7h0M124.8 351.2h0M118.4 344.6h0M108.2 343.1h0M116 372.7h0M107.8 356.9h0M103.4 345.6h0M134.6 350.6h0M118.6 356.6h0M104 371.1h0M127.6 358h0M129.1 360.4h0M103.9 363.5h0M102.3 344.9h0M103.1 371.4h0M113.6 361.2h0M119.4 358.3h0M129.6 370.1h0M114.6 370.3h0M98.7 368h0M100 370.6h0M122.8 366h0M134.6 354.5h0M103 362h0M107 360.8h0M107.2 372.2h0M124.8 351.1h0M96.7 361.9h0M77.1 344.5h0M79.2 344.1h0M133.9 369.9h0M125.1 349.3h0M121.1 357.6h0M129.4 370.4h0M121.7 366.2h0M133.4 360h0M99.5 360.5h0M93.1 341.5h0M82.7 343.1h0M136.3 357.5h0M128.6 366.6h0M115.6 370.6h0M125.6 350.7h0M84.6 340.5h0M117.5 360.9h0M120.1 366.2h0M106.2 371.1h0M115.3 364.7h0M104.8 359.6h0M108.4 370h0M113.7 363.5h0M105.1 361.5h0M116.3 344.9h0M103.6 360.1h0M87.5 343.8h0M97.5 364.9h0M132.3 355.9h0M106 345.5h0M117.7 365.8h0M105.5 359.3h0M124.3 374.2h0M107.3 363.7h0M98.5 362.1h0M114.3 364h0M134.2 365.3h0M120.4 365.2h0M114.7 342.4h0M123.3 348.3h0M106.5 358.8h0M121.2 367.4h0M105 373.6h0M103.4 360.3h0M120.7 374.2h0M116.7 359.4h0M125.5 370.7h0M114.4 365h0M136.3 368.7h0M102.3 372.6h0M135.5 367h0M109 363.9h0M115.8 370.9h0M120.7 374.7h0M106.6 357.7h0M117.1 360.1h0M134.4 350h0M111.4 372h0M124.2 373.6h0M105.6 344.4h0M124 359.5h0M130.9 351.5h0M132.3 355.3h0M138.3 365.6h0M122.2 369h0M104.8 372.5h0M138.2 359.9h0M94.5 343.1h0M102.3 358.7h0M135.7 357.1h0M108.5 364.1h0M118 358.7h0M98.5 345.4h0M76.9 344.5h0M129.6 357.3h0M79.4 343.2h0M132 360.7h0M134.9 363.8h0M128.6 361.3h0M132.3 372.2h0M106.5 368h0M130.4 357.3h0M131.7 350.8h0M134.2 369.9h0M134.8 366h0M117 372.5h0M135.6 361.4h0M123.1 373.3h0M122.3 366.9h0M114.3 357.1h0M121.2 355.4h0M82.2 341.5h0M106.5 346.3h0M131.6 373.2h0M107.2 357.5h0M118.6 357h0M135.6 355.8h0M125.7 373.2h0M114.8 361.1h0M125.5 365.5h0M85 340.9h0M91.3 341.1h0M118.3 372.4h0M119.9 348h0M112.2 363.1h0M114 365.4h0M122.2 351.6h0M137.6 363.5h0M105.2 360.1h0M79.9 344.1h0M112.3 361.5h0M137.6 362.2h0M106.8 355.2h0M123.6 360.6h0" stroke="#383838" stroke-width="0.75" stroke-linecap="round" fill="none" opacity="0.8"/>
<path d="M95.7 345.6h0M116.7 342.8h0M79.5 343.4h0M102.2 369.6h0M115.2 373.8h0M129.9 350.5h0M84.2 344.4h0M110.1 342.4h0M118.5 355.4h0M125.8 365h0M108.6 371.3h0M121.7 350.4h0M101.8 367.1h0M123.9 360.5h0M131 351.3h0M119.5 361.3h0M112.1 356.4h0M128.8 373.7h0M105.3 363.8h0M116.4 375.5h0M127.6 350.3h0M99.7 363.9h0M85.8 344.4h0M100 371.1h0M110.2 371.6h0M127.4 370.9h0M98.6 360.3h0M136 364.7h0M108 362.1h0M132.6 367.9h0M131 368.5h0M79 342.6h0M88.4 346h0M96.8 342.1h0M114.3 345.5h0M98.3 344.6h0M104.8 357.4h0M80.5 343.8h0M128 345.9h0M108.8 345.4h0M108.8 374.9h0M130.3 364.9h0M109.1 367.9h0M126.9 375.2h0M129.6 368.8h0M127.4 366.5h0M97.8 341.2h0M136.2 356.1h0M136.1 353.1h0M114.9 372.2h0M128.8 357.2h0M116.8 368.6h0M133.2 368h0M123 357.2h0M137.2 354.3h0M121.4 346.2h0M83.1 345.6h0M132.9 368.8h0M137.7 363.5h0M97.4 359.7h0M83.4 340.7h0M137.1 363.3h0M108.7 373.3h0M102.8 371.1h0M127.9 347.7h0M112.3 372.3h0M101.9 372.8h0M107.1 359.1h0M103.2 346.7h0M121.4 360h0M110.5 368h0M124.4 358.2h0M111 367.2h0M133.4 355.9h0M114.2 358.1h0M107.8 364.8h0M104 359.1h0M105.6 373.6h0M119.7 371.3h0M135.3 349.4h0M110.8 373.7h0M128.8 345.1h0M125.2 372h0M117.3 345.3h0M100.5 357.5h0M110.5 355.8h0M114.9 358.4h0M125.5 374.7h0M92.3 344.8h0M102 372.6h0M127.4 349.4h0M111.5 365.1h0M80.7 342.2h0M119 355.3h0M115.6 368.7h0M110.4 373.1h0M92.1 344.8h0M123.6 350.5h0M107 346.5h0M97.2 340.8h0M91 340.7h0M121.9 359.8h0M127.4 355.5h0M106.7 369.8h0M100.2 358.2h0M119 375.1h0M120.2 362.8h0M78.5 344.8h0M91.4 346h0M130.7 364h0M137.2 359.6h0M105.4 358h0M77.7 341h0M112.5 359h0M123 363.5h0M120.8 371.4h0M121.3 363h0M132.1 362.5h0M122 369h0M107.3 369.8h0M126.5 369.5h0M112.4 371.9h0M118.7 364.8h0M89.7 341.3h0M110.7 362.5h0M115.1 364.4h0M126.1 366.8h0M107.2 359.2h0M117.2 342.5h0M122.2 349.2h0M121.7 347.5h0M122.3 374.8h0M105.7 364.5h0M124.1 362.1h0M116.1 343h0M122.6 351h0M118 364.8h0M108.1 356.7h0M104.8 344.4h0M132.2 347.3h0M127.5 374.6h0M127.5 358.3h0M131.8 365.2h0M128.7 344.5h0M134.3 365.5h0M132.7 350.5h0M92.6 341.9h0M107.7 346.9h0M131.6 369h0M115.4 372.6h0M135.2 359.7h0M121.9 356.2h0M123.2 363.1h0M93.3 341.9h0M85.7 345.9h0M103.8 345.2h0M87.3 343.4h0M96.9 343.4h0M111.5 371.7h0M123 354.9h0M101.5 358.8h0M107.2 362.6h0M130.2 347.9h0M100.6 356h0M136.1 370.3h0M132.3 357h0M127.8 370.6h0M108.4 364.4h0M135.3 365.8h0M116.4 367.4h0M104.3 359.8h0M115.7 365h0M82.2 342.7h0M108.6 360.9h0M136.4 363.1h0M131.6 357.1h0M136.5 365.2h0M94.7 341h0M106.9 364.1h0M117.7 373h0M89.5 341.4h0M118.7 347.2h0M126 366.4h0M107.3 347.5h0M137.1 351.3h0M127.5 348.4h0M106.7 346.8h0M117.6 373.9h0M84.1 342h0M132.5 371.6h0M121.9 375.6h0M134.6 351.9h0M127.6 355.6h0M101.3 369h0M77.2 342.4h0M133.9 349.3h0M122.8 372.1h0M136.3 362.1h0M133.7 362.7h0M102.5 357.7h0M126.4 366.4h0M127.7 367.6h0M90.8 342.5h0M92 343.2h0M120.4 356.1h0M114.7 364.1h0M122.9 370.3h0M117.5 344.5h0M128.8 350.6h0M122.2 347.3h0M126.7 363.4h0M105.4 369.3h0M128.8 372.7h0M137.3 360.9h0M134.5 353.4h0M130.4 356.1h0M113.2 362.2h0M116.7 347.4h0M118.4 346.8h0M125.9 359.7h0M79 343.8h0M100.3 359.7h0M115.9 343.4h0M121.6 347.4h0M102.1 369.3h0M101 371.5h0M104.5 346h0M116 372.5h0M98.7 358.1h0M108.4 373.1h0M126.5 374.5h0M87.6 344.7h0M105.9 342.1h0M134.3 354h0M132.9 362.2h0M127.8 345.9h0M125.3 348.1h0M100.9 370.2h0M128.1 346.7h0M121.4 372.1h0M128.6 344.4h0M113.4 359.7h0M101.9 360.9h0M102.2 363.6h0M103.6 355.8h0M123.9 367.9h0M104.3 346.6h0M105.3 344h0M107.7 341.6h0M115.7 343.1h0M121.9 367.8h0M107.7 342.1h0M121.9 369.1h0M106.5 374.2h0M125.5 373.2h0M123.4 345.8h0M132.4 350h0M127.2 345.3h0M107.1 372.9h0M118.5 372h0" stroke="#f0f0f0" stroke-width="0.7" stroke-linecap="round" fill="none" opacity="0.8"/>
<path d="M101,355.8 C97,358.5 96,366 99.5,370.8 C104,375.2 115,375.8 128,375.6" fill="none" stroke="#4a4a4a" stroke-width="1.2" opacity="0.5" filter="url(#b05)"/>
<path d="M76,341.2 C90,341.8 110,343.2 130,345.8" fill="none" stroke="#3a3a3a" stroke-width="1.4" opacity="0.55" filter="url(#b05)"/>
<path d="M76,342.5 C76.83,337.17 80.58,341.92 82,344 C83.42,346.08 84.08,350.33 84.5,355 C84.92,359.67 84.83,368.5 84.5,372 C84.17,375.5 83.75,375.33 82.5,376 C81.25,376.67 78.08,381.58 77,376 C75.92,370.42 75.17,347.83 76,342.5 Z" fill="#8c8c8c" filter="url(#b08)"/>
<path d="M77,342.6 C75.3,350 75.2,366 76,376" fill="none" stroke="#2e2e2e" stroke-width="2.4" opacity="0.85" filter="url(#b08)"/>
<ellipse cx="80.2" cy="362.5" rx="1.3" ry="11" fill="#fdfdfd" filter="url(#b05)"/>
<path d="M80,376.4 C83.33,373.2 93.33,376.6 100,376.8 C106.67,377 113.33,377.5 120,377.6 C126.67,377.7 135.58,377.08 140,377.4 C144.42,377.72 144.87,378.07 146.5,379.5 C148.13,380.93 149.45,383.67 149.8,386 C150.15,388.33 150.23,391.83 148.6,393.5 C146.97,395.17 146.43,395.48 140,396 C133.57,396.52 118.33,396.43 110,396.6 C101.67,396.77 95,397.1 90,397 C85,396.9 81.67,399.43 80,396 C78.33,392.57 76.67,379.6 80,376.4 Z" fill="#c4c4c4" filter="url(#b05)"/>
<path d="M84,389 C88.33,388.08 101.5,389.42 110,389.5 C118.5,389.58 128.83,389.42 135,389.5 C141.17,389.58 145.17,389.17 147,390 C148.83,390.83 148,393.5 146,394.5 C144,395.5 141,395.65 135,396 C129,396.35 117.5,396.43 110,396.6 C102.5,396.77 94.33,397.27 90,397 C85.67,396.73 85,396.33 84,395 C83,393.67 79.67,389.92 84,389 Z" fill="#8e8e8e" filter="url(#b08)"/>
<path d="M84,376.9 C100,377.6 120,378.4 140,378 C145,379 148.5,383 149,387" fill="none" stroke="#4a4a4a" stroke-width="0.9" opacity="0.95"/>
<path d="M84,378.4 C100,379.1 120,379.6 140,379.05 C145,379.75 148.5,383 149,387" fill="none" stroke="#707070" stroke-width="0.55" opacity="0.8"/>
<path d="M84,379.9 C100,380.6 120,380.8 140,380.1 C145,380.5 148.5,383 149,387" fill="none" stroke="#707070" stroke-width="0.55" opacity="0.7"/>
<path d="M84,381.4 C100,382.1 120,382 140,381.15 C145,381.25 148.5,383 149,387" fill="none" stroke="#707070" stroke-width="0.55" opacity="0.5"/>
<path d="M75.5,375.5 C77.37,373 82.58,377.58 86,379 C89.42,380.42 93.83,382 96,384 C98.17,386 100,389.08 99,391 C98,392.92 93.5,394.42 90,395.5 C86.5,396.58 80.53,397.75 78,397.5 C75.47,397.25 75.22,397.67 74.8,394 C74.38,390.33 73.63,378 75.5,375.5 Z" fill="#999" filter="url(#b08)"/>
<path d="M76,375 C74.2,384 74.5,393 77.5,397.2 C86,397.5 96,394.5 108,393.5" fill="none" stroke="#2a2a2a" stroke-width="2.3" opacity="0.85" filter="url(#b08)"/>
<path d="M77,375.7 C82,377 87,379.5 93,382.5" fill="none" stroke="#4a4a4a" stroke-width="1.3" opacity="0.7" filter="url(#b08)"/>
<path d="M106,394 C120,395.6 135,395 146,392.5 C149,390 150,386 148,381" fill="none" stroke="#444" stroke-width="1.4" opacity="0.65" filter="url(#b05)"/>
<path d="M84,386.6 C100,386.4 118,386.3 134,386.8" fill="none" stroke="#fafafa" stroke-width="1.6" filter="url(#b05)"/>
<ellipse cx="130" cy="387.6" rx="11" ry="6.5" fill="none" stroke="#5e5e5e" stroke-width="0.6" opacity="0.6"/>
<ellipse cx="130" cy="387.6" rx="8.5" ry="5" fill="none" stroke="#5e5e5e" stroke-width="0.6" opacity="0.7"/>
<ellipse cx="130" cy="387.6" rx="6" ry="3.4" fill="none" stroke="#5e5e5e" stroke-width="0.6" opacity="0.8"/>
<ellipse cx="130" cy="387.6" rx="3.5" ry="1.8" fill="none" stroke="#5e5e5e" stroke-width="0.6" opacity="0.8"/>
<ellipse cx="130.5" cy="388.4" rx="7" ry="3.6" fill="#888" opacity="0.4" filter="url(#b05)"/>
<path d="M101.3,338.8 L137.2,340.4 L137.2,364.4 L101.3,363.2 Z" fill="none" stroke="#333" stroke-width="0.8"/>
<text x="122.3" y="324" font-size="4.8" text-anchor="middle" fill="#555">LSK</text>
<text x="123" y="329" font-size="4.8" text-anchor="middle" fill="#555">2.0854</text>
<text x="85.8" y="334.6" font-size="13.2" fill="#231f20" textLength="21.2" lengthAdjust="spacingAndGlyphs">LSK</text>
<line x1="37.9" y1="425.5" x2="37.9" y2="310.2" stroke="#555" stroke-width="1.4" marker-end="url(#ah)"/>
<line x1="48" y1="426.8" x2="157.5" y2="426.8" stroke="#555" stroke-width="1.4" marker-end="url(#ah)"/>
<text transform="translate(33.4,367) rotate(-90)" font-size="13.4" fill="#231f20" text-anchor="middle" textLength="24.6" lengthAdjust="spacingAndGlyphs">c-kit</text>
<text x="87.9" y="443.2" font-size="13.6" fill="#231f20" textLength="25.9" lengthAdjust="spacingAndGlyphs">Sca1</text>
<line x1="131.5" y1="348.2" x2="203.5" y2="349.6" stroke="#231f20" stroke-width="1.3"/>
<path d="M206.8,349.7 L196.5,345.2 L198.5,349.6 L196.5,354.1 Z" fill="#231f20"/>
<rect x="207.6" y="314.6" width="97.7" height="96.9" fill="none" stroke="#c4c4c4" stroke-width="0.8"/>
<line x1="205" y1="321.5" x2="207.6" y2="321.5" stroke="#8a8a8a" stroke-width="0.9"/>
<text x="204.4" y="323.1" font-size="5.4" text-anchor="end" fill="#555">10<tspan font-size="3.8" dy="-2.4">5</tspan></text>
<line x1="205" y1="346" x2="207.6" y2="346" stroke="#8a8a8a" stroke-width="0.9"/>
<text x="204.4" y="347.6" font-size="5.4" text-anchor="end" fill="#555">10<tspan font-size="3.8" dy="-2.4">4</tspan></text>
<line x1="205" y1="373" x2="207.6" y2="373" stroke="#8a8a8a" stroke-width="0.9"/>
<text x="204.4" y="374.6" font-size="5.4" text-anchor="end" fill="#555">10<tspan font-size="3.8" dy="-2.4">3</tspan></text>
<line x1="205" y1="389.5" x2="207.6" y2="389.5" stroke="#8a8a8a" stroke-width="0.9"/>
<text x="204.4" y="391.1" font-size="5.4" text-anchor="end" fill="#555">0</text>
<line x1="205" y1="405.5" x2="207.6" y2="405.5" stroke="#8a8a8a" stroke-width="0.9"/>
<text x="204.4" y="407.1" font-size="5.4" text-anchor="end" fill="#555">-10<tspan font-size="3.8" dy="-2.4">3</tspan></text>
<line x1="217.5" y1="411.5" x2="217.5" y2="414.1" stroke="#8a8a8a" stroke-width="0.9"/>
<text x="217.5" y="419.7" font-size="5.4" text-anchor="middle" fill="#555">-10<tspan font-size="3.8" dy="-2.4">3</tspan></text>
<line x1="231.5" y1="411.5" x2="231.5" y2="414.1" stroke="#8a8a8a" stroke-width="0.9"/>
<text x="231.5" y="419.7" font-size="5.4" text-anchor="middle" fill="#555">0</text>
<line x1="248" y1="411.5" x2="248" y2="414.1" stroke="#8a8a8a" stroke-width="0.9"/>
<text x="248" y="419.7" font-size="5.4" text-anchor="middle" fill="#555">10<tspan font-size="3.8" dy="-2.4">3</tspan></text>
<line x1="274" y1="411.5" x2="274" y2="414.1" stroke="#8a8a8a" stroke-width="0.9"/>
<text x="274" y="419.7" font-size="5.4" text-anchor="middle" fill="#555">10<tspan font-size="3.8" dy="-2.4">4</tspan></text>
<line x1="298" y1="411.5" x2="298" y2="414.1" stroke="#8a8a8a" stroke-width="0.9"/>
<text x="298" y="419.7" font-size="5.4" text-anchor="middle" fill="#555">10<tspan font-size="3.8" dy="-2.4">5</tspan></text>
<line x1="206.1" y1="327" x2="207.6" y2="327" stroke="#8a8a8a" stroke-width="0.6"/>
<line x1="206.1" y1="331" x2="207.6" y2="331" stroke="#8a8a8a" stroke-width="0.6"/>
<line x1="206.1" y1="335" x2="207.6" y2="335" stroke="#8a8a8a" stroke-width="0.6"/>
<line x1="206.1" y1="339" x2="207.6" y2="339" stroke="#8a8a8a" stroke-width="0.6"/>
<line x1="206.1" y1="352" x2="207.6" y2="352" stroke="#8a8a8a" stroke-width="0.6"/>
<line x1="206.1" y1="356" x2="207.6" y2="356" stroke="#8a8a8a" stroke-width="0.6"/>
<line x1="206.1" y1="360" x2="207.6" y2="360" stroke="#8a8a8a" stroke-width="0.6"/>
<line x1="206.1" y1="364" x2="207.6" y2="364" stroke="#8a8a8a" stroke-width="0.6"/>
<line x1="206.1" y1="378" x2="207.6" y2="378" stroke="#8a8a8a" stroke-width="0.6"/>
<line x1="206.1" y1="383" x2="207.6" y2="383" stroke="#8a8a8a" stroke-width="0.6"/>
<line x1="206.1" y1="397" x2="207.6" y2="397" stroke="#8a8a8a" stroke-width="0.6"/>
<line x1="206.1" y1="401" x2="207.6" y2="401" stroke="#8a8a8a" stroke-width="0.6"/>
<line x1="212" y1="411.5" x2="212" y2="413" stroke="#8a8a8a" stroke-width="0.6"/>
<line x1="222" y1="411.5" x2="222" y2="413" stroke="#8a8a8a" stroke-width="0.6"/>
<line x1="226" y1="411.5" x2="226" y2="413" stroke="#8a8a8a" stroke-width="0.6"/>
<line x1="238" y1="411.5" x2="238" y2="413" stroke="#8a8a8a" stroke-width="0.6"/>
<line x1="243" y1="411.5" x2="243" y2="413" stroke="#8a8a8a" stroke-width="0.6"/>
<line x1="252" y1="411.5" x2="252" y2="413" stroke="#8a8a8a" stroke-width="0.6"/>
<line x1="256" y1="411.5" x2="256" y2="413" stroke="#8a8a8a" stroke-width="0.6"/>
<line x1="260" y1="411.5" x2="260" y2="413" stroke="#8a8a8a" stroke-width="0.6"/>
<line x1="264" y1="411.5" x2="264" y2="413" stroke="#8a8a8a" stroke-width="0.6"/>
<line x1="268" y1="411.5" x2="268" y2="413" stroke="#8a8a8a" stroke-width="0.6"/>
<line x1="279" y1="411.5" x2="279" y2="413" stroke="#8a8a8a" stroke-width="0.6"/>
<line x1="283" y1="411.5" x2="283" y2="413" stroke="#8a8a8a" stroke-width="0.6"/>
<line x1="287" y1="411.5" x2="287" y2="413" stroke="#8a8a8a" stroke-width="0.6"/>
<line x1="291" y1="411.5" x2="291" y2="413" stroke="#8a8a8a" stroke-width="0.6"/>
<line x1="294" y1="411.5" x2="294" y2="413" stroke="#8a8a8a" stroke-width="0.6"/>
<rect x="226" y="411.5" width="5" height="2.2" fill="#555"/>
<rect x="205.2" y="386.5" width="2.2" height="5" fill="#555"/>
<path d="M211.5,341 C212.45,338.72 212.58,338.83 216,338.3 C219.42,337.77 226.67,337.75 232,337.8 C237.33,337.85 244.5,338.07 248,338.6 C251.5,339.13 251.33,340.18 253,341 C254.67,341.82 255.83,342.73 258,343.5 C260.17,344.27 263.83,344.85 266,345.6 C268.17,346.35 269.92,346.27 271,348 C272.08,349.73 272.28,352.33 272.5,356 C272.72,359.67 271.97,365.83 272.3,370 C272.63,374.17 274.22,378.08 274.5,381 C274.78,383.92 275.42,385.92 274,387.5 C272.58,389.08 270.83,389.95 266,390.5 C261.17,391.05 252,390.72 245,390.8 C238,390.88 229,391.2 224,391 C219,390.8 217.17,390.6 215,389.6 C212.83,388.6 211.8,388.27 211,385 C210.2,381.73 210.32,375.5 210.2,370 C210.08,364.5 210.08,356.83 210.3,352 C210.52,347.17 210.55,343.28 211.5,341 Z" fill="#a2a2a2" filter="url(#b05)"/>
<path d="M254,344 C256.33,340 263.17,345.17 266,346 C268.83,346.83 269.95,347 271,349 C272.05,351 272.08,354.5 272.3,358 C272.52,361.5 271.98,366.17 272.3,370 C272.62,373.83 274.08,378 274.2,381 C274.32,384 275.03,386.5 273,388 C270.97,389.5 265.17,389.75 262,390 C258.83,390.25 255.67,392.83 254,389.5 C252.33,386.17 252,377.58 252,370 C252,362.42 251.67,348 254,344 Z" fill="#c9c9c9" filter="url(#b08)"/>
<path d="M255.02,346.95 C257.13,343.4 263.64,347.86 266.15,348.6 C268.65,349.34 269.27,349.62 270.05,351.38 C270.83,353.15 270.59,356.09 270.81,359.21 C271.02,362.34 271.08,366.78 271.34,370.11 C271.6,373.44 272.37,376.56 272.37,379.2 C272.36,381.85 272.98,384.7 271.31,385.97 C269.64,387.24 264.96,386.56 262.35,386.81 C259.74,387.06 257.13,390.3 255.66,387.48 C254.18,384.66 253.61,376.65 253.5,369.9 C253.4,363.14 252.92,350.5 255.02,346.95 Z" fill="none" stroke="#7c7c7c" stroke-width="0.5"/>
<path d="M255.93,349.66 C257.59,346.57 263.15,350.53 265.25,351.19 C267.36,351.85 267.87,352.07 268.55,353.63 C269.23,355.19 269.11,357.85 269.32,360.56 C269.53,363.27 269.48,367.02 269.81,369.89 C270.14,372.76 271.21,375.6 271.31,377.79 C271.41,379.97 271.92,381.96 270.4,382.99 C268.88,384.03 264.45,383.76 262.21,384.01 C259.97,384.27 258.09,386.89 256.94,384.5 C255.78,382.12 255.44,375.54 255.27,369.73 C255.1,363.92 254.26,352.75 255.93,349.66 Z" fill="none" stroke="#7c7c7c" stroke-width="0.5"/>
<path d="M257.38,353.28 C258.68,350.84 262.76,353.75 264.55,354.28 C266.34,354.82 267.38,355.22 268.12,356.48 C268.86,357.74 268.83,359.67 269,361.86 C269.16,364.05 269.11,367.35 269.13,369.62 C269.15,371.88 269.06,373.73 269.12,375.45 C269.18,377.18 270.52,379.03 269.49,379.96 C268.47,380.9 265.04,380.9 262.98,381.08 C260.91,381.26 258.13,383.08 257.09,381.06 C256.05,379.03 256.69,373.55 256.73,368.92 C256.78,364.29 256.08,355.72 257.38,353.28 Z" fill="none" stroke="#7c7c7c" stroke-width="0.5"/>
<path d="M258.36,356.76 C259.59,355.02 263.63,357.82 264.94,358.19 C266.25,358.56 265.91,358.18 266.22,358.96 C266.53,359.74 266.56,361.28 266.8,362.87 C267.03,364.47 267.4,366.69 267.63,368.53 C267.87,370.37 268.29,372.43 268.22,373.92 C268.16,375.41 268.25,376.75 267.23,377.48 C266.21,378.21 263.57,378.24 262.1,378.29 C260.63,378.35 259.15,379.4 258.4,377.79 C257.65,376.19 257.6,372.15 257.6,368.64 C257.59,365.14 257.14,358.5 258.36,356.76 Z" fill="none" stroke="#7c7c7c" stroke-width="0.5"/>
<path d="M260.69,360.68 C261.44,359.46 262.97,361.24 263.72,361.42 C264.48,361.61 264.77,361.2 265.21,361.79 C265.66,362.38 266.35,363.73 266.4,364.97 C266.45,366.21 265.52,368.08 265.5,369.23 C265.47,370.38 266.07,371.04 266.24,371.87 C266.41,372.7 267.16,373.75 266.53,374.19 C265.89,374.64 263.59,374.4 262.44,374.53 C261.29,374.66 260.17,375.94 259.63,374.98 C259.08,374.02 259,371.14 259.17,368.76 C259.35,366.38 259.93,361.91 260.69,360.68 Z" fill="none" stroke="#7c7c7c" stroke-width="0.5"/>
<path d="M213,368 C216.83,366.17 228.83,366.83 235,367 C241.17,367.17 246.5,367.5 250,369 C253.5,370.5 255.17,373.17 256,376 C256.83,378.83 256.83,383.75 255,386 C253.17,388.25 250,388.9 245,389.5 C240,390.1 230.17,390.02 225,389.6 C219.83,389.18 216.17,388.93 214,387 C211.83,385.07 212.17,381.17 212,378 C211.83,374.83 209.17,369.83 213,368 Z" fill="#b2b2b2" filter="url(#b08)"/>
<path d="M216.32,369.6 C219.59,368.02 230.33,368.57 235.61,368.78 C240.88,368.99 245.13,369.65 247.97,370.87 C250.82,372.09 251.92,373.7 252.68,376.1 C253.45,378.5 254.11,383.35 252.56,385.27 C251.01,387.19 247.68,387.08 243.4,387.61 C239.12,388.15 231.29,388.68 226.89,388.45 C222.49,388.22 218.81,387.95 217,386.25 C215.18,384.55 216.09,381.03 215.98,378.25 C215.87,375.48 213.05,371.18 216.32,369.6 Z" fill="none" stroke="#888" stroke-width="0.5"/>
<path d="M220.28,371.12 C222.79,369.99 230.7,371.09 234.86,371.3 C239.02,371.52 242.84,371.41 245.26,372.4 C247.67,373.4 248.73,375.43 249.36,377.28 C249.98,379.14 250.28,382.04 249.02,383.55 C247.76,385.07 245.28,385.96 241.8,386.36 C238.31,386.76 231.54,386.2 228.09,385.94 C224.64,385.68 222.48,386.1 221.1,384.79 C219.72,383.49 219.93,380.38 219.79,378.1 C219.66,375.82 217.77,372.26 220.28,371.12 Z" fill="none" stroke="#888" stroke-width="0.5"/>
<path d="M224.92,373.2 C226.81,372.33 232.01,372.71 235.02,372.77 C238.02,372.83 241.17,372.79 242.95,373.56 C244.72,374.33 245.24,375.94 245.68,377.37 C246.11,378.8 246.46,380.92 245.57,382.13 C244.69,383.34 242.79,384.25 240.36,384.64 C237.93,385.03 233.51,384.72 230.98,384.46 C228.45,384.2 226.41,384.15 225.19,383.08 C223.97,382.01 223.69,379.68 223.64,378.04 C223.59,376.39 223.02,374.08 224.92,373.2 Z" fill="none" stroke="#888" stroke-width="0.5"/>
<path d="M228.16,375.89 C229.37,375.31 233.91,375.62 235.88,375.62 C237.85,375.63 238.92,375.49 240,375.94 C241.08,376.38 242.07,377.3 242.38,378.27 C242.7,379.24 242.55,381.05 241.9,381.74 C241.24,382.43 239.99,382.23 238.46,382.41 C236.92,382.58 234.26,382.9 232.72,382.79 C231.17,382.69 229.88,382.38 229.2,381.76 C228.51,381.15 228.79,380.07 228.61,379.1 C228.44,378.12 226.95,376.47 228.16,375.89 Z" fill="none" stroke="#888" stroke-width="0.5"/>
<ellipse cx="245" cy="378.5" rx="3.5" ry="2" fill="#d8d8d8" filter="url(#b05)"/>
<path d="M213,341.5 C214.92,339.43 219.5,339.95 224,339.6 C228.5,339.25 235.92,339.17 240,339.4 C244.08,339.63 246.75,339.57 248.5,341 C250.25,342.43 250.33,345.17 250.5,348 C250.67,350.83 250.25,355.08 249.5,358 C248.75,360.92 248.25,364 246,365.5 C243.75,367 240,366.83 236,367 C232,367.17 225.58,367.17 222,366.5 C218.42,365.83 216.08,365.42 214.5,363 C212.92,360.58 212.75,355.58 212.5,352 C212.25,348.42 211.08,343.57 213,341.5 Z" fill="#8e8e8e" filter="url(#b05)"/>
<path d="M216.08,343.55 C217.68,341.9 221.71,342.44 225.32,342.18 C228.93,341.91 234.47,341.81 237.73,341.95 C241,342.1 243.46,341.97 244.89,343.06 C246.32,344.15 246.2,346.23 246.3,348.51 C246.4,350.78 246.14,354.32 245.47,356.69 C244.79,359.05 244.01,361.48 242.26,362.71 C240.52,363.95 238.11,364 234.99,364.1 C231.88,364.2 226.48,363.88 223.58,363.31 C220.68,362.74 218.89,362.54 217.59,360.66 C216.28,358.79 216,354.92 215.75,352.07 C215.5,349.22 214.49,345.2 216.08,343.55 Z" fill="#969696" stroke="#747474" stroke-width="0.45"/>
<path d="M219.07,345.5 C220.18,344.25 222.87,344.52 225.62,344.24 C228.38,343.96 233.05,343.7 235.58,343.82 C238.12,343.95 239.79,344.05 240.86,345 C241.93,345.95 241.95,347.9 241.99,349.54 C242.03,351.17 241.6,353.09 241.1,354.81 C240.61,356.53 240.4,358.92 239.04,359.84 C237.68,360.76 235.28,360.24 232.96,360.34 C230.64,360.43 227.24,360.73 225.12,360.43 C223.01,360.12 221.28,359.96 220.25,358.51 C219.23,357.06 219.16,353.9 218.96,351.73 C218.76,349.56 217.96,346.75 219.07,345.5 Z" fill="#9f9f9f" stroke="#747474" stroke-width="0.45"/>
<path d="M222.36,347.14 C223.15,346.37 225.35,346.92 227.24,346.77 C229.14,346.63 232.1,346.25 233.7,346.27 C235.31,346.28 236.27,346.26 236.87,346.85 C237.47,347.44 237.21,348.59 237.31,349.8 C237.41,351 237.69,352.85 237.47,354.08 C237.25,355.31 236.94,356.65 235.97,357.16 C234.99,357.67 233.26,357.16 231.62,357.14 C229.99,357.11 227.6,357.25 226.16,357.02 C224.72,356.79 223.58,356.67 222.97,355.73 C222.36,354.79 222.6,352.83 222.5,351.4 C222.4,349.96 221.57,347.92 222.36,347.14 Z" fill="#acacac" stroke="#747474" stroke-width="0.45"/>
<path d="M225.33,349.18 C225.8,348.73 227.33,348.64 228.29,348.45 C229.24,348.27 230.2,348.08 231.08,348.07 C231.96,348.07 233.12,348.05 233.59,348.43 C234.06,348.82 233.94,349.67 233.9,350.4 C233.86,351.12 233.61,352.19 233.36,352.77 C233.1,353.36 232.83,353.67 232.36,353.9 C231.88,354.13 231.28,354.09 230.5,354.14 C229.73,354.19 228.55,354.34 227.72,354.2 C226.89,354.06 225.9,353.78 225.52,353.28 C225.15,352.77 225.51,351.86 225.47,351.18 C225.44,350.49 224.86,349.64 225.33,349.18 Z" fill="#c2c2c2" stroke="#747474" stroke-width="0.45"/>
<path d="M213.6,366 C212.3,356 212.3,346 213.8,341.6 C216,339.6 222,339.1 240,339.1 C246,339.3 249,340.4 250.2,342.5" fill="none" stroke="#2a2a2a" stroke-width="3.4" opacity="0.92" filter="url(#b05)"/>
<path d="M250.2,342.5 C251.2,350 250.2,360 246.5,365.5 C240,367.5 225,367.3 214,364.5" fill="none" stroke="#4a4a4a" stroke-width="1.3" opacity="0.8" filter="url(#b05)"/>
<path d="M215.16,342.88 C216.85,341.06 220.88,341.52 224.84,341.21 C228.8,340.9 235.33,340.83 238.92,341.03 C242.51,341.24 244.86,341.18 246.4,342.44 C247.94,343.7 248.01,346.11 248.16,348.6 C248.31,351.09 247.94,354.83 247.28,357.4 C246.62,359.97 246.18,362.68 244.2,364 C242.22,365.32 238.92,365.17 235.4,365.32 C231.88,365.47 226.23,365.47 223.08,364.88 C219.93,364.29 217.87,363.93 216.48,361.8 C215.09,359.67 214.94,355.27 214.72,352.12 C214.5,348.97 213.47,344.7 215.16,342.88 Z" fill="none" stroke="#555" stroke-width="0.7" opacity="0.8"/>
<path d="M211.5,341 C212.45,338.72 212.58,338.83 216,338.3 C219.42,337.77 226.67,337.75 232,337.8 C237.33,337.85 244.5,338.07 248,338.6 C251.5,339.13 251.33,340.18 253,341 C254.67,341.82 255.83,342.73 258,343.5 C260.17,344.27 263.83,344.85 266,345.6 C268.17,346.35 269.92,346.27 271,348 C272.08,349.73 272.28,352.33 272.5,356 C272.72,359.67 271.97,365.83 272.3,370 C272.63,374.17 274.22,378.08 274.5,381 C274.78,383.92 275.42,385.92 274,387.5 C272.58,389.08 270.83,389.95 266,390.5 C261.17,391.05 252,390.72 245,390.8 C238,390.88 229,391.2 224,391 C219,390.8 217.17,390.6 215,389.6 C212.83,388.6 211.8,388.27 211,385 C210.2,381.73 210.32,375.5 210.2,370 C210.08,364.5 210.08,356.83 210.3,352 C210.52,347.17 210.55,343.28 211.5,341 Z" fill="none" stroke="#3a3a3a" stroke-width="1.4" opacity="0.7" filter="url(#b05)"/>
<path d="M211.2,350 C210,360 210,376 211,385 C213,389 218,390.6 235,391 C250,391 258,390.9 264,390.6" fill="none" stroke="#333" stroke-width="2.2" opacity="0.75" filter="url(#b05)"/>
<path d="M212.29,341.69 C213.23,339.48 213.45,339.81 216.78,339.24 C220.12,338.68 227.14,338.33 232.31,338.3 C237.48,338.27 244.44,338.52 247.79,339.07 C251.13,339.61 250.73,340.79 252.38,341.58 C254.03,342.38 255.54,343.11 257.68,343.84 C259.82,344.58 263.1,345.23 265.21,345.99 C267.32,346.76 269.25,346.71 270.34,348.44 C271.43,350.17 271.58,352.78 271.76,356.38 C271.94,359.98 271.07,366.05 271.43,370.05 C271.78,374.05 273.55,377.52 273.88,380.35 C274.21,383.19 274.87,385.49 273.41,387.07 C271.95,388.65 269.87,389.28 265.13,389.83 C260.38,390.39 251.75,390.31 244.95,390.4 C238.15,390.49 229.18,390.6 224.33,390.39 C219.48,390.18 217.91,390.15 215.85,389.16 C213.8,388.18 212.79,387.72 211.99,384.48 C211.19,381.23 211.17,375.02 211.04,369.7 C210.9,364.37 210.97,357.18 211.18,352.52 C211.38,347.85 211.36,343.91 212.29,341.69 Z" fill="none" stroke="#555" stroke-width="0.55" opacity="0.85"/>
<path d="M213.01,342.33 C213.9,340.18 213.75,340.36 217.03,339.87 C220.31,339.39 227.59,339.41 232.69,339.45 C237.79,339.48 244.36,339.59 247.62,340.09 C250.88,340.59 250.63,341.71 252.24,342.45 C253.86,343.18 255.28,343.8 257.31,344.48 C259.35,345.17 262.42,345.78 264.45,346.53 C266.48,347.29 268.41,347.41 269.48,349.01 C270.55,350.62 270.64,352.75 270.87,356.17 C271.1,359.58 270.52,365.52 270.87,369.49 C271.22,373.46 272.73,377.16 272.95,380 C273.18,382.85 273.61,385.05 272.2,386.55 C270.79,388.05 269.06,388.5 264.48,389.01 C259.91,389.53 251.34,389.51 244.76,389.64 C238.18,389.78 229.71,390.03 225,389.81 C220.3,389.6 218.56,389.38 216.52,388.37 C214.47,387.36 213.55,386.85 212.72,383.75 C211.89,380.65 211.7,374.93 211.52,369.77 C211.35,364.61 211.41,357.36 211.66,352.79 C211.91,348.21 212.12,344.48 213.01,342.33 Z" fill="none" stroke="#555" stroke-width="0.55" opacity="0.85"/>
<path d="M256,343.5 C265,345.5 271,347 272.4,356 L272.4,370 C273.6,378 275,384 273.5,388 C268,390.6 262,390.6 256,390.7" fill="none" stroke="#bdbdbd" stroke-width="1.6" opacity="0.6" filter="url(#b05)"/>
<line x1="257.6" y1="314.6" x2="257.6" y2="411.5" stroke="#5a5a5a" stroke-width="0.9"/>
<line x1="207.6" y1="370.2" x2="305.3" y2="370.2" stroke="#5a5a5a" stroke-width="0.9"/>
<text x="209.6" y="321.8" font-size="4.2" text-anchor="start" fill="#666">Q1</text>
<text x="209.6" y="326.6" font-size="4.2" text-anchor="start" fill="#666">68.3577</text>
<text x="296" y="321.8" font-size="4.2" text-anchor="end" fill="#666">Q2</text>
<text x="296" y="326.6" font-size="4.2" text-anchor="end" fill="#666">3.7951</text>
<text x="209.6" y="402" font-size="4.2" text-anchor="start" fill="#666">Q4</text>
<text x="209.6" y="406.8" font-size="4.2" text-anchor="start" fill="#666">19.8717</text>
<text x="296" y="402" font-size="4.2" text-anchor="end" fill="#666">Q3</text>
<text x="296" y="406.8" font-size="4.2" text-anchor="end" fill="#666">3.8755</text>
<text x="189.4" y="336.5" font-size="13.4" fill="#231f20" textLength="68" lengthAdjust="spacingAndGlyphs">Progenitors</text>
<text x="223.4" y="402.6" font-size="13.4" fill="#231f20" textLength="25.5" lengthAdjust="spacingAndGlyphs">MPP</text>
<text x="261.8" y="402.6" font-size="13.4" fill="#231f20" textLength="22.4" lengthAdjust="spacingAndGlyphs">HSC</text>
<text x="232.8" y="443" font-size="13.4" fill="#231f20" textLength="39" lengthAdjust="spacingAndGlyphs">CD150</text>
<line x1="186.9" y1="551.5" x2="186.9" y2="314" stroke="#555" stroke-width="1.4" marker-end="url(#ah)"/>
<text transform="translate(184.3,436.7) rotate(-90)" font-size="13.6" fill="#231f20" text-anchor="middle" textLength="31.6" lengthAdjust="spacingAndGlyphs">CD48</text>
<line x1="287.4" y1="393" x2="287.4" y2="444" stroke="#231f20" stroke-width="1.3"/>
<path d="M287.4,452.4 L282.9,442 L287.4,444 L291.9,442 Z" fill="#231f20"/>
<rect x="208.4" y="452.3" width="96.9" height="97.2" fill="none" stroke="#c4c4c4" stroke-width="0.8"/>
<line x1="205.8" y1="461" x2="208.4" y2="461" stroke="#8a8a8a" stroke-width="0.9"/>
<text x="205.2" y="462.6" font-size="5.4" text-anchor="end" fill="#555">10<tspan font-size="3.8" dy="-2.4">5</tspan></text>
<line x1="205.8" y1="485" x2="208.4" y2="485" stroke="#8a8a8a" stroke-width="0.9"/>
<text x="205.2" y="486.6" font-size="5.4" text-anchor="end" fill="#555">10<tspan font-size="3.8" dy="-2.4">4</tspan></text>
<line x1="205.8" y1="511.5" x2="208.4" y2="511.5" stroke="#8a8a8a" stroke-width="0.9"/>
<text x="205.2" y="513.1" font-size="5.4" text-anchor="end" fill="#555">10<tspan font-size="3.8" dy="-2.4">3</tspan></text>
<line x1="205.8" y1="527.5" x2="208.4" y2="527.5" stroke="#8a8a8a" stroke-width="0.9"/>
<text x="205.2" y="529.1" font-size="5.4" text-anchor="end" fill="#555">0</text>
<line x1="205.8" y1="543.5" x2="208.4" y2="543.5" stroke="#8a8a8a" stroke-width="0.9"/>
<text x="205.2" y="545.1" font-size="5.4" text-anchor="end" fill="#555">-10<tspan font-size="3.8" dy="-2.4">3</tspan></text>
<line x1="218.5" y1="549.5" x2="218.5" y2="552.1" stroke="#8a8a8a" stroke-width="0.9"/>
<text x="218.5" y="557.7" font-size="5.4" text-anchor="middle" fill="#555">-10<tspan font-size="3.8" dy="-2.4">3</tspan></text>
<line x1="232.5" y1="549.5" x2="232.5" y2="552.1" stroke="#8a8a8a" stroke-width="0.9"/>
<text x="232.5" y="557.7" font-size="5.4" text-anchor="middle" fill="#555">0</text>
<line x1="249" y1="549.5" x2="249" y2="552.1" stroke="#8a8a8a" stroke-width="0.9"/>
<text x="249" y="557.7" font-size="5.4" text-anchor="middle" fill="#555">10<tspan font-size="3.8" dy="-2.4">3</tspan></text>
<line x1="275" y1="549.5" x2="275" y2="552.1" stroke="#8a8a8a" stroke-width="0.9"/>
<text x="275" y="557.7" font-size="5.4" text-anchor="middle" fill="#555">10<tspan font-size="3.8" dy="-2.4">4</tspan></text>
<line x1="299" y1="549.5" x2="299" y2="552.1" stroke="#8a8a8a" stroke-width="0.9"/>
<text x="299" y="557.7" font-size="5.4" text-anchor="middle" fill="#555">10<tspan font-size="3.8" dy="-2.4">5</tspan></text>
<line x1="206.9" y1="466" x2="208.4" y2="466" stroke="#8a8a8a" stroke-width="0.6"/>
<line x1="206.9" y1="470" x2="208.4" y2="470" stroke="#8a8a8a" stroke-width="0.6"/>
<line x1="206.9" y1="474" x2="208.4" y2="474" stroke="#8a8a8a" stroke-width="0.6"/>
<line x1="206.9" y1="478" x2="208.4" y2="478" stroke="#8a8a8a" stroke-width="0.6"/>
<line x1="206.9" y1="491" x2="208.4" y2="491" stroke="#8a8a8a" stroke-width="0.6"/>
<line x1="206.9" y1="495" x2="208.4" y2="495" stroke="#8a8a8a" stroke-width="0.6"/>
<line x1="206.9" y1="499" x2="208.4" y2="499" stroke="#8a8a8a" stroke-width="0.6"/>
<line x1="206.9" y1="503" x2="208.4" y2="503" stroke="#8a8a8a" stroke-width="0.6"/>
<line x1="206.9" y1="516" x2="208.4" y2="516" stroke="#8a8a8a" stroke-width="0.6"/>
<line x1="206.9" y1="521" x2="208.4" y2="521" stroke="#8a8a8a" stroke-width="0.6"/>
<line x1="206.9" y1="535" x2="208.4" y2="535" stroke="#8a8a8a" stroke-width="0.6"/>
<line x1="206.9" y1="539" x2="208.4" y2="539" stroke="#8a8a8a" stroke-width="0.6"/>
<line x1="213" y1="549.5" x2="213" y2="551" stroke="#8a8a8a" stroke-width="0.6"/>
<line x1="223" y1="549.5" x2="223" y2="551" stroke="#8a8a8a" stroke-width="0.6"/>
<line x1="227" y1="549.5" x2="227" y2="551" stroke="#8a8a8a" stroke-width="0.6"/>
<line x1="239" y1="549.5" x2="239" y2="551" stroke="#8a8a8a" stroke-width="0.6"/>
<line x1="244" y1="549.5" x2="244" y2="551" stroke="#8a8a8a" stroke-width="0.6"/>
<line x1="253" y1="549.5" x2="253" y2="551" stroke="#8a8a8a" stroke-width="0.6"/>
<line x1="257" y1="549.5" x2="257" y2="551" stroke="#8a8a8a" stroke-width="0.6"/>
<line x1="261" y1="549.5" x2="261" y2="551" stroke="#8a8a8a" stroke-width="0.6"/>
<line x1="265" y1="549.5" x2="265" y2="551" stroke="#8a8a8a" stroke-width="0.6"/>
<line x1="269" y1="549.5" x2="269" y2="551" stroke="#8a8a8a" stroke-width="0.6"/>
<line x1="280" y1="549.5" x2="280" y2="551" stroke="#8a8a8a" stroke-width="0.6"/>
<line x1="284" y1="549.5" x2="284" y2="551" stroke="#8a8a8a" stroke-width="0.6"/>
<line x1="288" y1="549.5" x2="288" y2="551" stroke="#8a8a8a" stroke-width="0.6"/>
<line x1="292" y1="549.5" x2="292" y2="551" stroke="#8a8a8a" stroke-width="0.6"/>
<line x1="295" y1="549.5" x2="295" y2="551" stroke="#8a8a8a" stroke-width="0.6"/>
<rect x="227" y="549.5" width="5" height="2.2" fill="#555"/>
<rect x="206" y="524.5" width="2.2" height="5" fill="#555"/>
<path d="M231,508 C232.7,506.3 236.5,504.6 240,503.8 C243.5,503 248.33,503.33 252,503.2 C255.67,503.07 258.67,502.78 262,503 C265.33,503.22 268.83,503.67 272,504.5 C275.17,505.33 278.75,506.5 281,508 C283.25,509.5 285.17,511.58 285.5,513.5 C285.83,515.42 284.42,517.58 283,519.5 C281.58,521.42 278.33,522.92 277,525 C275.67,527.08 277.33,530 275,532 C272.67,534 267.5,536.42 263,537 C258.5,537.58 252.5,536.42 248,535.5 C243.5,534.58 238.92,533.58 236,531.5 C233.08,529.42 231.53,525.92 230.5,523 C229.47,520.08 229.72,516.5 229.8,514 C229.88,511.5 229.3,509.7 231,508 Z" fill="#c4c4c4" filter="url(#b05)"/>
<path d="M231,508 C232.7,506.3 236.5,504.6 240,503.8 C243.5,503 248.33,503.33 252,503.2 C255.67,503.07 258.67,502.78 262,503 C265.33,503.22 268.83,503.67 272,504.5 C275.17,505.33 278.75,506.5 281,508 C283.25,509.5 285.17,511.58 285.5,513.5 C285.83,515.42 284.42,517.58 283,519.5 C281.58,521.42 278.33,522.92 277,525 C275.67,527.08 277.33,530 275,532 C272.67,534 267.5,536.42 263,537 C258.5,537.58 252.5,536.42 248,535.5 C243.5,534.58 238.92,533.58 236,531.5 C233.08,529.42 231.53,525.92 230.5,523 C229.47,520.08 229.72,516.5 229.8,514 C229.88,511.5 229.3,509.7 231,508 Z" fill="none" stroke="#6a6a6a" stroke-width="0.45" opacity="0.9"/>
<path d="M232.68,508.78 C234.28,507.18 237.85,505.58 241.14,504.83 C244.43,504.08 248.97,504.39 252.42,504.27 C255.87,504.14 258.69,503.88 261.82,504.08 C264.95,504.28 268.24,504.71 271.22,505.49 C274.2,506.27 277.56,507.37 279.68,508.78 C281.8,510.19 283.6,512.15 283.91,513.95 C284.22,515.75 282.89,517.79 281.56,519.59 C280.23,521.39 277.17,522.8 275.92,524.76 C274.67,526.72 276.23,529.46 274.04,531.34 C271.85,533.22 266.99,535.49 262.76,536.04 C258.53,536.59 252.89,535.49 248.66,534.63 C244.43,533.77 240.12,532.83 237.38,530.87 C234.64,528.91 233.18,525.62 232.21,522.88 C231.24,520.14 231.47,516.77 231.55,514.42 C231.63,512.07 231.08,510.38 232.68,508.78 Z" fill="none" stroke="#6a6a6a" stroke-width="0.45" opacity="0.9"/>
<path d="M234.36,509.56 C235.86,508.06 239.2,506.57 242.28,505.86 C245.36,505.16 249.61,505.45 252.84,505.34 C256.07,505.22 258.71,504.97 261.64,505.16 C264.57,505.35 267.65,505.75 270.44,506.48 C273.23,507.21 276.38,508.24 278.36,509.56 C280.34,510.88 282.03,512.71 282.32,514.4 C282.61,516.09 281.37,517.99 280.12,519.68 C278.87,521.37 276.01,522.69 274.84,524.52 C273.67,526.35 275.13,528.92 273.08,530.68 C271.03,532.44 266.48,534.57 262.52,535.08 C258.56,535.59 253.28,534.57 249.32,533.76 C245.36,532.95 241.33,532.07 238.76,530.24 C236.19,528.41 234.83,525.33 233.92,522.76 C233.01,520.19 233.23,517.04 233.3,514.84 C233.38,512.64 232.86,511.06 234.36,509.56 Z" fill="none" stroke="#6a6a6a" stroke-width="0.45" opacity="0.9"/>
<path d="M236.04,510.34 C237.43,508.95 240.55,507.55 243.42,506.9 C246.29,506.24 250.25,506.51 253.26,506.4 C256.27,506.29 258.73,506.06 261.46,506.24 C264.19,506.42 267.06,506.79 269.66,507.47 C272.26,508.15 275.2,509.11 277.04,510.34 C278.88,511.57 280.46,513.28 280.73,514.85 C281,516.42 279.84,518.2 278.68,519.77 C277.52,521.34 274.85,522.57 273.76,524.28 C272.67,525.99 274.03,528.38 272.12,530.02 C270.21,531.66 265.97,533.64 262.28,534.12 C258.59,534.6 253.67,533.64 249.98,532.89 C246.29,532.14 242.53,531.32 240.14,529.61 C237.75,527.9 236.48,525.03 235.63,522.64 C234.78,520.25 234.99,517.31 235.06,515.26 C235.12,513.21 234.65,511.73 236.04,510.34 Z" fill="none" stroke="#6a6a6a" stroke-width="0.45" opacity="0.9"/>
<path d="M237.72,511.12 C239.01,509.83 241.9,508.54 244.56,507.93 C247.22,507.32 250.89,507.57 253.68,507.47 C256.47,507.37 258.75,507.16 261.28,507.32 C263.81,507.48 266.47,507.83 268.88,508.46 C271.29,509.09 274.01,509.98 275.72,511.12 C277.43,512.26 278.89,513.84 279.14,515.3 C279.39,516.76 278.32,518.4 277.24,519.86 C276.16,521.32 273.69,522.46 272.68,524.04 C271.67,525.62 272.93,527.84 271.16,529.36 C269.39,530.88 265.46,532.72 262.04,533.16 C258.62,533.6 254.06,532.72 250.64,532.02 C247.22,531.32 243.74,530.56 241.52,528.98 C239.3,527.4 238.13,524.74 237.34,522.52 C236.55,520.3 236.74,517.58 236.81,515.68 C236.87,513.78 236.43,512.41 237.72,511.12 Z" fill="none" stroke="#6a6a6a" stroke-width="0.45" opacity="0.9"/>
<path d="M239.4,511.9 C240.59,510.71 243.25,509.52 245.7,508.96 C248.15,508.4 251.53,508.63 254.1,508.54 C256.67,508.45 258.77,508.25 261.1,508.4 C263.43,508.55 265.88,508.87 268.1,509.45 C270.32,510.03 272.82,510.85 274.4,511.9 C275.97,512.95 277.32,514.41 277.55,515.75 C277.78,517.09 276.79,518.61 275.8,519.95 C274.81,521.29 272.53,522.34 271.6,523.8 C270.67,525.26 271.83,527.3 270.2,528.7 C268.57,530.1 264.95,531.79 261.8,532.2 C258.65,532.61 254.45,531.79 251.3,531.15 C248.15,530.51 244.94,529.81 242.9,528.35 C240.86,526.89 239.77,524.44 239.05,522.4 C238.33,520.36 238.5,517.85 238.56,516.1 C238.62,514.35 238.21,513.09 239.4,511.9 Z" fill="none" stroke="#6a6a6a" stroke-width="0.45" opacity="0.9"/>
<path d="M236,509 C238,507.33 242.67,506.17 246,506 C249.33,505.83 254,506 256,508 C258,510 258.33,514.67 258,518 C257.67,521.33 256.33,526 254,528 C251.67,530 247,530.5 244,530 C241,529.5 237.67,527.33 236,525 C234.33,522.67 234,518.67 234,516 C234,513.33 234,510.67 236,509 Z" fill="#b0b0b0" stroke="#666" stroke-width="0.4"/>
<path d="M238.75,510.75 C240.25,509.5 243.75,508.62 246.25,508.5 C248.75,508.38 252.25,508.5 253.75,510 C255.25,511.5 255.5,515 255.25,517.5 C255,520 254,523.5 252.25,525 C250.5,526.5 247,526.88 244.75,526.5 C242.5,526.12 240,524.5 238.75,522.75 C237.5,521 237.25,518 237.25,516 C237.25,514 237.25,512 238.75,510.75 Z" fill="#a0a0a0" stroke="#666" stroke-width="0.4"/>
<path d="M241.5,512.5 C242.5,511.67 244.83,511.08 246.5,511 C248.17,510.92 250.5,511 251.5,512 C252.5,513 252.67,515.33 252.5,517 C252.33,518.67 251.67,521 250.5,522 C249.33,523 247,523.25 245.5,523 C244,522.75 242.33,521.67 241.5,520.5 C240.67,519.33 240.5,517.33 240.5,516 C240.5,514.67 240.5,513.33 241.5,512.5 Z" fill="#959595" stroke="#666" stroke-width="0.4"/>
<path d="M243.7,513.9 C244.3,513.4 245.7,513.05 246.7,513 C247.7,512.95 249.1,513 249.7,513.6 C250.3,514.2 250.4,515.6 250.3,516.6 C250.2,517.6 249.8,519 249.1,519.6 C248.4,520.2 247,520.35 246.1,520.2 C245.2,520.05 244.2,519.4 243.7,518.7 C243.2,518 243.1,516.8 243.1,516 C243.1,515.2 243.1,514.4 243.7,513.9 Z" fill="#8a8a8a" stroke="#666" stroke-width="0.4"/>
<path d="M251,507 C253,504.25 257.83,504.5 261,504.5 C264.17,504.5 267.67,505.08 270,507 C272.33,508.92 274.33,512.33 275,516 C275.67,519.67 275.67,525.58 274,529 C272.33,532.42 268.5,535.67 265,536.5 C261.5,537.33 255.67,536.58 253,534 C250.33,531.42 249.33,525.5 249,521 C248.67,516.5 249,509.75 251,507 Z" fill="#8c8c8c" stroke="#3a3a3a" stroke-width="0.4" filter="url(#b05)"/>
<path d="M252.65,509.4 C254.35,507.06 258.46,507.27 261.15,507.27 C263.84,507.27 266.82,507.77 268.8,509.4 C270.78,511.03 272.48,513.93 273.05,517.05 C273.62,520.17 273.62,525.2 272.2,528.1 C270.78,531 267.53,533.77 264.55,534.48 C261.57,535.18 256.62,534.55 254.35,532.35 C252.08,530.15 251.23,525.12 250.95,521.3 C250.67,517.47 250.95,511.74 252.65,509.4 Z" fill="#747474" stroke="#3a3a3a" stroke-width="0.4" filter="url(#b05)"/>
<path d="M254.3,511.8 C255.7,509.88 259.08,510.05 261.3,510.05 C263.52,510.05 265.97,510.46 267.6,511.8 C269.23,513.14 270.63,515.53 271.1,518.1 C271.57,520.67 271.57,524.81 270.4,527.2 C269.23,529.59 266.55,531.87 264.1,532.45 C261.65,533.03 257.57,532.51 255.7,530.7 C253.83,528.89 253.13,524.75 252.9,521.6 C252.67,518.45 252.9,513.73 254.3,511.8 Z" fill="#5e5e5e" stroke="#3a3a3a" stroke-width="0.4" filter="url(#b05)"/>
<path d="M255.95,514.2 C257.05,512.69 259.71,512.83 261.45,512.83 C263.19,512.83 265.12,513.15 266.4,514.2 C267.68,515.25 268.78,517.13 269.15,519.15 C269.52,521.17 269.52,524.42 268.6,526.3 C267.68,528.18 265.57,529.97 263.65,530.42 C261.72,530.88 258.52,530.47 257.05,529.05 C255.58,527.63 255.03,524.38 254.85,521.9 C254.67,519.42 254.85,515.71 255.95,514.2 Z" fill="#4c4c4c" stroke="#3a3a3a" stroke-width="0.4" filter="url(#b05)"/>
<path d="M257.6,516.6 C258.4,515.5 260.33,515.6 261.6,515.6 C262.87,515.6 264.27,515.83 265.2,516.6 C266.13,517.37 266.93,518.73 267.2,520.2 C267.47,521.67 267.47,524.03 266.8,525.4 C266.13,526.77 264.6,528.07 263.2,528.4 C261.8,528.73 259.47,528.43 258.4,527.4 C257.33,526.37 256.93,524 256.8,522.2 C256.67,520.4 256.8,517.7 257.6,516.6 Z" fill="#444" stroke="#3a3a3a" stroke-width="0.4" filter="url(#b05)"/>
<path d="M259.25,519 C259.75,518.31 260.96,518.38 261.75,518.38 C262.54,518.38 263.42,518.52 264,519 C264.58,519.48 265.08,520.33 265.25,521.25 C265.42,522.17 265.42,523.65 265,524.5 C264.58,525.35 263.62,526.17 262.75,526.38 C261.88,526.58 260.42,526.4 259.75,525.75 C259.08,525.1 258.83,523.62 258.75,522.5 C258.67,521.38 258.75,519.69 259.25,519 Z" fill="#5a5a5a" stroke="#3a3a3a" stroke-width="0.4" filter="url(#b05)"/>
<ellipse cx="261.3" cy="522.8" rx="1.6" ry="1.6" fill="#e6e6e6" filter="url(#b05)"/>
<path d="M305.3,500.9 L258.5,500.9 L258.5,547.8 L305.3,547.8" fill="none" stroke="#555" stroke-width="0.9"/>
<text x="280.5" y="521.8" font-size="4.2" text-anchor="middle" fill="#555">CD9+</text>
<text x="283" y="527.8" font-size="4.2" text-anchor="middle" fill="#555">57.7181</text>
<text x="262.6" y="546.6" font-size="13.4" fill="#231f20" textLength="57.6" lengthAdjust="spacingAndGlyphs">CD9+HSC</text>
<line x1="199.8" y1="568.9" x2="309" y2="568.9" stroke="#555" stroke-width="1.4" marker-end="url(#ah)"/>
<text x="240.2" y="582.6" font-size="13.4" fill="#231f20" textLength="24.1" lengthAdjust="spacingAndGlyphs">CD9</text>
</svg>
</body></html>
